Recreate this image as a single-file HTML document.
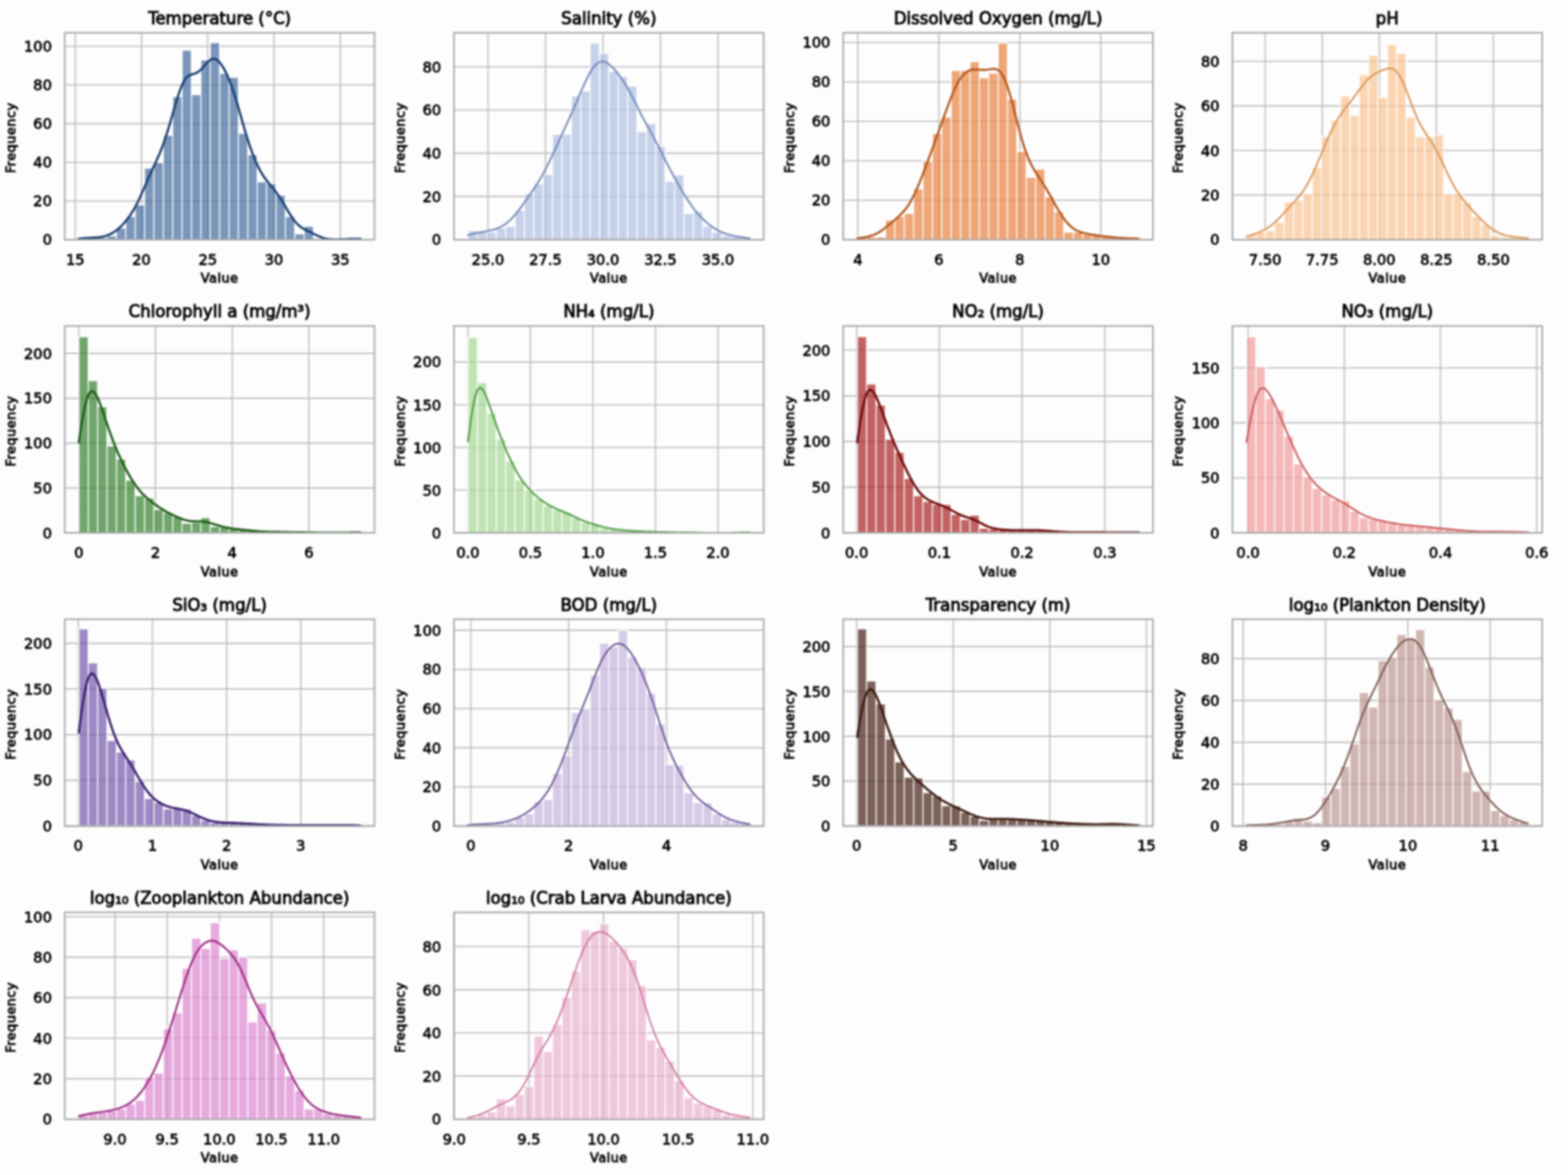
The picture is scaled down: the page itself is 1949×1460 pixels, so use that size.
<!DOCTYPE html>
<html><head><meta charset="utf-8"><title>Histograms</title>
<style>
html,body{margin:0;padding:0;background:#fdfdfd;}
body{width:1949px;height:1460px;overflow:hidden;}
#wrap{width:1949px;height:1460px;filter:blur(1px);}
svg{display:block;}
text{font-family:"DejaVu Sans","Liberation Sans",sans-serif;fill:#000;}
.tk text{font-size:18.2px;fill:#000;stroke:#000;stroke-width:0.8px;}
.lb{font-size:16px;fill:#000;stroke:#000;stroke-width:0.9px;letter-spacing:0.6px;}
.tt{font-family:"DejaVu Sans","Liberation Sans",sans-serif;font-size:20.6px;fill:#000;stroke:#000;stroke-width:1px;}
</style></head>
<body>
<div id="wrap">
<svg width="1949" height="1460" viewBox="0 0 1949 1460">
<rect width="1949" height="1460" fill="#fdfdfd"/>
<clipPath id="c0"><rect x="80.50" y="40.80" width="385.00" height="257.00"/></clipPath>
<path d="M93.50 40.80V297.80M175.88 40.80V297.80M258.25 40.80V297.80M340.62 40.80V297.80M423.00 40.80V297.80M80.50 297.80H465.50M80.50 249.74H465.50M80.50 201.68H465.50M80.50 153.62H465.50M80.50 105.56H465.50M80.50 57.50H465.50" stroke="#bdbdbd" stroke-width="1.6" fill="none"/>
<path d="M98.00 297.80H109.67V295.40H98.00ZM109.67 297.80H121.33V295.40H109.67ZM121.33 297.80H133.00V295.40H121.33ZM133.00 297.80H144.67V292.99H133.00ZM144.67 297.80H156.33V283.38H144.67ZM156.33 297.80H168.00V268.96H156.33ZM168.00 297.80H179.67V254.55H168.00ZM179.67 297.80H191.33V208.89H179.67ZM191.33 297.80H203.00V201.68H191.33ZM203.00 297.80H214.67V168.04H203.00ZM214.67 297.80H226.33V119.98H214.67ZM226.33 297.80H238.00V62.31H226.33ZM238.00 297.80H249.67V117.58H238.00ZM249.67 297.80H261.33V74.32H249.67ZM261.33 297.80H273.00V52.69H261.33ZM273.00 297.80H284.67V91.14H273.00ZM284.67 297.80H296.33V95.95H284.67ZM296.33 297.80H308.00V165.64H296.33ZM308.00 297.80H319.67V192.07H308.00ZM319.67 297.80H331.33V225.71H319.67ZM331.33 297.80H343.00V228.11H331.33ZM343.00 297.80H354.67V242.53H343.00ZM354.67 297.80H366.33V268.96H354.67ZM366.33 297.80H378.00V290.59H366.33ZM378.00 297.80H389.67V280.98H378.00ZM436.33 297.80H448.00V295.40H436.33Z" fill="#416a9c" fill-opacity="0.7" stroke="#ffffff" stroke-width="1.4" clip-path="url(#c0)"/>
<polyline points="98.0,296.6 99.8,296.4 101.5,296.3 103.3,296.1 105.0,296.0 106.8,295.9 108.6,295.8 110.3,295.7 112.1,295.6 113.8,295.5 115.6,295.4 117.3,295.2 119.1,295.1 120.9,295.0 122.6,294.8 124.4,294.6 126.1,294.3 127.9,294.0 129.7,293.6 131.4,293.1 133.2,292.5 134.9,291.9 136.7,291.1 138.5,290.2 140.2,289.2 142.0,288.1 143.7,286.9 145.5,285.6 147.2,284.1 149.0,282.6 150.8,280.9 152.5,279.1 154.3,277.2 156.0,275.1 157.8,273.0 159.6,270.7 161.3,268.2 163.1,265.6 164.8,262.8 166.6,259.9 168.4,256.7 170.1,253.3 171.9,249.8 173.6,246.0 175.4,242.2 177.1,238.2 178.9,234.2 180.7,230.1 182.4,226.1 184.2,222.1 185.9,218.1 187.7,214.3 189.5,210.4 191.2,206.7 193.0,202.9 194.7,199.0 196.5,195.1 198.3,191.0 200.0,186.7 201.8,182.2 203.5,177.4 205.3,172.4 207.0,167.1 208.8,161.5 210.6,155.7 212.3,149.7 214.1,143.7 215.8,137.5 217.6,131.5 219.4,125.5 221.1,119.9 222.9,114.6 224.6,109.8 226.4,105.5 228.2,101.9 229.9,98.9 231.7,96.6 233.4,94.9 235.2,93.7 236.9,92.8 238.7,92.3 240.5,91.8 242.2,91.3 244.0,90.6 245.7,89.7 247.5,88.5 249.3,87.0 251.0,85.2 252.8,83.3 254.5,81.2 256.3,79.1 258.1,77.2 259.8,75.6 261.6,74.2 263.3,73.4 265.1,73.0 266.8,73.1 268.6,73.7 270.4,74.9 272.1,76.5 273.9,78.6 275.6,81.0 277.4,83.9 279.2,87.0 280.9,90.4 282.7,94.2 284.4,98.3 286.2,102.6 287.9,107.3 289.7,112.4 291.5,117.7 293.2,123.3 295.0,129.2 296.7,135.2 298.5,141.4 300.3,147.6 302.0,153.7 303.8,159.8 305.5,165.7 307.3,171.4 309.1,176.9 310.8,182.2 312.6,187.2 314.3,191.9 316.1,196.4 317.8,200.5 319.6,204.5 321.4,208.1 323.1,211.5 324.9,214.6 326.6,217.5 328.4,220.1 330.2,222.6 331.9,224.9 333.7,227.1 335.4,229.2 337.2,231.3 339.0,233.4 340.7,235.6 342.5,237.8 344.2,240.2 346.0,242.7 347.7,245.3 349.5,248.0 351.3,250.9 353.0,253.8 354.8,256.8 356.5,259.7 358.3,262.7 360.1,265.6 361.8,268.4 363.6,271.0 365.3,273.4 367.1,275.6 368.9,277.6 370.6,279.4 372.4,280.9 374.1,282.3 375.9,283.4 377.6,284.5 379.4,285.4 381.2,286.3 382.9,287.1 384.7,287.9 386.4,288.8 388.2,289.7 390.0,290.5 391.7,291.4 393.5,292.3 395.2,293.1 397.0,293.9 398.8,294.6 400.5,295.3 402.3,295.8 404.0,296.3 405.8,296.7 407.5,297.0 409.3,297.2 411.1,297.4 412.8,297.5 414.6,297.6 416.3,297.6 418.1,297.6 419.9,297.6 421.6,297.6 423.4,297.5 425.1,297.5 426.9,297.4 428.7,297.3 430.4,297.2 432.2,297.1 433.9,297.0 435.7,297.0 437.4,296.9 439.2,296.9 441.0,296.8 442.7,296.8 444.5,296.8 446.2,296.9 448.0,296.9" fill="none" stroke="#1b3f6f" stroke-width="2.8" stroke-linejoin="round" stroke-linecap="round" clip-path="url(#c0)"/>
<rect x="80.50" y="40.80" width="385.00" height="257.00" fill="none" stroke="#a8a8a8" stroke-width="2.0"/>
<g class="tk"><text x="93.50" y="328.80" text-anchor="middle">15</text><text x="175.88" y="328.80" text-anchor="middle">20</text><text x="258.25" y="328.80" text-anchor="middle">25</text><text x="340.62" y="328.80" text-anchor="middle">30</text><text x="423.00" y="328.80" text-anchor="middle">35</text><text x="64.50" y="304.40" text-anchor="end">0</text><text x="64.50" y="256.34" text-anchor="end">20</text><text x="64.50" y="208.28" text-anchor="end">40</text><text x="64.50" y="160.22" text-anchor="end">60</text><text x="64.50" y="112.16" text-anchor="end">80</text><text x="64.50" y="64.10" text-anchor="end">100</text></g>
<text class="lb" x="273.00" y="351.30" text-anchor="middle">Value</text>
<text class="lb" transform="translate(19.00 171.30) rotate(-90)" text-anchor="middle">Frequency</text>
<text class="tt" x="273.00" y="30.00" text-anchor="middle">Temperature (°C)</text>
<clipPath id="c1"><rect x="564.30" y="40.80" width="385.00" height="257.00"/></clipPath>
<path d="M606.60 40.80V297.80M678.05 40.80V297.80M749.50 40.80V297.80M820.95 40.80V297.80M892.40 40.80V297.80M564.30 297.80H949.30M564.30 244.10H949.30M564.30 190.40H949.30M564.30 136.71H949.30M564.30 83.01H949.30" stroke="#bdbdbd" stroke-width="1.6" fill="none"/>
<path d="M581.80 297.80H593.47V286.25H581.80ZM593.47 297.80H605.13V288.40H593.47ZM605.13 297.80H616.80V288.40H605.13ZM616.80 297.80H628.47V283.30H616.80ZM628.47 297.80H640.13V281.15H628.47ZM640.13 297.80H651.80V261.02H640.13ZM651.80 297.80H663.47V240.61H651.80ZM663.47 297.80H675.13V228.53H663.47ZM675.13 297.80H686.80V216.45H675.13ZM686.80 297.80H698.47V166.78H686.80ZM698.47 297.80H710.13V166.78H698.47ZM710.13 297.80H721.80V118.98H710.13ZM721.80 297.80H733.47V113.08H721.80ZM733.47 297.80H745.13V53.20H733.47ZM745.13 297.80H756.80V66.36H745.13ZM756.80 297.80H768.47V88.65H756.80ZM768.47 297.80H780.13V94.82H768.47ZM780.13 297.80H791.80V106.90H780.13ZM791.80 297.80H803.47V163.55H791.80ZM803.47 297.80H815.13V153.62H803.47ZM815.13 297.80H826.80V181.81H815.13ZM826.80 297.80H838.47V225.31H826.80ZM838.47 297.80H850.13V217.25H838.47ZM850.13 297.80H861.80V265.04H850.13ZM861.80 297.80H873.47V262.90H861.80ZM873.47 297.80H885.13V281.15H873.47ZM885.13 297.80H896.80V288.40H885.13ZM896.80 297.80H908.47V292.43H896.80ZM908.47 297.80H920.13V293.77H908.47ZM920.13 297.80H931.80V295.12H920.13Z" fill="#aebfe1" fill-opacity="0.7" stroke="#ffffff" stroke-width="1.4" clip-path="url(#c1)"/>
<polyline points="581.8,292.4 583.6,291.9 585.3,291.4 587.1,290.9 588.8,290.5 590.6,290.0 592.4,289.6 594.1,289.2 595.9,288.9 597.6,288.6 599.4,288.3 601.1,288.0 602.9,287.7 604.7,287.3 606.4,287.0 608.2,286.7 609.9,286.3 611.7,285.9 613.5,285.4 615.2,284.9 617.0,284.3 618.7,283.6 620.5,282.9 622.3,282.0 624.0,281.1 625.8,280.0 627.5,278.9 629.3,277.6 631.0,276.2 632.8,274.7 634.6,273.0 636.3,271.3 638.1,269.4 639.8,267.4 641.6,265.3 643.4,263.1 645.1,260.8 646.9,258.5 648.6,256.1 650.4,253.7 652.2,251.2 653.9,248.7 655.7,246.2 657.4,243.7 659.2,241.2 660.9,238.6 662.7,236.0 664.5,233.4 666.2,230.7 668.0,227.9 669.7,225.1 671.5,222.2 673.3,219.1 675.0,216.0 676.8,212.7 678.5,209.4 680.3,205.9 682.1,202.4 683.8,198.8 685.6,195.1 687.3,191.3 689.1,187.5 690.8,183.7 692.6,179.9 694.4,176.1 696.1,172.3 697.9,168.5 699.6,164.6 701.4,160.8 703.2,156.9 704.9,153.0 706.7,149.1 708.4,145.2 710.2,141.3 712.0,137.3 713.7,133.3 715.5,129.2 717.2,125.2 719.0,121.1 720.7,117.1 722.5,113.0 724.3,109.1 726.0,105.2 727.8,101.3 729.5,97.7 731.3,94.2 733.1,90.9 734.8,87.9 736.6,85.2 738.3,82.8 740.1,80.8 741.9,79.1 743.6,77.8 745.4,77.0 747.1,76.5 748.9,76.4 750.6,76.6 752.4,77.2 754.2,78.0 755.9,79.1 757.7,80.5 759.4,82.0 761.2,83.7 763.0,85.5 764.7,87.4 766.5,89.5 768.2,91.7 770.0,94.0 771.7,96.4 773.5,98.9 775.3,101.6 777.0,104.3 778.8,107.2 780.5,110.3 782.3,113.5 784.1,116.7 785.8,120.1 787.6,123.6 789.3,127.0 791.1,130.6 792.9,134.1 794.6,137.5 796.4,141.0 798.1,144.4 799.9,147.7 801.6,151.0 803.4,154.2 805.2,157.4 806.9,160.5 808.7,163.7 810.4,166.9 812.2,170.1 814.0,173.4 815.7,176.7 817.5,180.1 819.2,183.6 821.0,187.0 822.8,190.5 824.5,194.1 826.3,197.6 828.0,201.1 829.8,204.6 831.5,208.0 833.3,211.3 835.1,214.6 836.8,217.9 838.6,221.1 840.3,224.3 842.1,227.4 843.9,230.4 845.6,233.5 847.4,236.5 849.1,239.4 850.9,242.3 852.7,245.1 854.4,247.9 856.2,250.6 857.9,253.2 859.7,255.7 861.4,258.1 863.2,260.4 865.0,262.6 866.7,264.7 868.5,266.7 870.2,268.6 872.0,270.5 873.8,272.2 875.5,273.9 877.3,275.5 879.0,277.1 880.8,278.5 882.6,279.9 884.3,281.2 886.1,282.5 887.8,283.7 889.6,284.8 891.3,285.8 893.1,286.7 894.9,287.6 896.6,288.4 898.4,289.1 900.1,289.8 901.9,290.4 903.7,291.0 905.4,291.5 907.2,291.9 908.9,292.4 910.7,292.8 912.5,293.1 914.2,293.5 916.0,293.8 917.7,294.1 919.5,294.4 921.2,294.7 923.0,294.9 924.8,295.2 926.5,295.4 928.3,295.7 930.0,295.9 931.8,296.1" fill="none" stroke="#7489b8" stroke-width="2.2" stroke-linejoin="round" stroke-linecap="round" clip-path="url(#c1)"/>
<rect x="564.30" y="40.80" width="385.00" height="257.00" fill="none" stroke="#a8a8a8" stroke-width="2.0"/>
<g class="tk"><text x="606.60" y="328.80" text-anchor="middle">25.0</text><text x="678.05" y="328.80" text-anchor="middle">27.5</text><text x="749.50" y="328.80" text-anchor="middle">30.0</text><text x="820.95" y="328.80" text-anchor="middle">32.5</text><text x="892.40" y="328.80" text-anchor="middle">35.0</text><text x="548.30" y="304.40" text-anchor="end">0</text><text x="548.30" y="250.70" text-anchor="end">20</text><text x="548.30" y="197.00" text-anchor="end">40</text><text x="548.30" y="143.31" text-anchor="end">60</text><text x="548.30" y="89.61" text-anchor="end">80</text></g>
<text class="lb" x="756.80" y="351.30" text-anchor="middle">Value</text>
<text class="lb" transform="translate(502.80 171.30) rotate(-90)" text-anchor="middle">Frequency</text>
<text class="tt" x="756.80" y="30.00" text-anchor="middle">Salinity (%)</text>
<clipPath id="c2"><rect x="1048.10" y="40.80" width="385.00" height="257.00"/></clipPath>
<path d="M1066.30 40.80V297.80M1166.97 40.80V297.80M1267.63 40.80V297.80M1368.30 40.80V297.80M1048.10 297.80H1433.10M1048.10 248.80H1433.10M1048.10 199.80H1433.10M1048.10 150.80H1433.10M1048.10 101.80H1433.10M1048.10 52.80H1433.10" stroke="#bdbdbd" stroke-width="1.6" fill="none"/>
<path d="M1065.60 297.80H1077.27V294.37H1065.60ZM1077.27 297.80H1088.93V294.37H1077.27ZM1088.93 297.80H1100.60V294.37H1088.93ZM1100.60 297.80H1112.27V273.30H1100.60ZM1112.27 297.80H1123.93V269.14H1112.27ZM1123.93 297.80H1135.60V264.97H1123.93ZM1135.60 297.80H1147.27V234.59H1135.60ZM1147.27 297.80H1158.93V200.05H1147.27ZM1158.93 297.80H1170.60V165.75H1158.93ZM1170.60 297.80H1182.27V145.41H1170.60ZM1182.27 297.80H1193.93V87.59H1182.27ZM1193.93 297.80H1205.60V87.59H1193.93ZM1205.60 297.80H1217.27V76.57H1205.60ZM1217.27 297.80H1228.93V96.66H1217.27ZM1228.93 297.80H1240.60V90.78H1228.93ZM1240.60 297.80H1252.27V53.29H1240.60ZM1252.27 297.80H1263.93V123.12H1252.27ZM1263.93 297.80H1275.60V188.04H1263.93ZM1275.60 297.80H1287.27V220.38H1275.60ZM1287.27 297.80H1298.93V210.09H1287.27ZM1298.93 297.80H1310.60V244.64H1298.93ZM1310.60 297.80H1322.27V263.01H1310.60ZM1322.27 297.80H1333.93V288.25H1322.27ZM1333.93 297.80H1345.60V288.25H1333.93ZM1345.60 297.80H1357.27V291.19H1345.60ZM1357.27 297.80H1368.93V292.17H1357.27ZM1368.93 297.80H1380.60V294.37H1368.93ZM1380.60 297.80H1392.27V295.35H1380.60ZM1392.27 297.80H1403.93V296.58H1392.27ZM1403.93 297.80H1415.60V295.35H1403.93Z" fill="#e8803e" fill-opacity="0.7" stroke="#ffffff" stroke-width="1.4" clip-path="url(#c2)"/>
<polyline points="1065.6,296.0 1067.4,295.8 1069.1,295.6 1070.9,295.3 1072.6,295.1 1074.4,294.8 1076.2,294.5 1077.9,294.2 1079.7,293.8 1081.4,293.3 1083.2,292.8 1084.9,292.3 1086.7,291.6 1088.5,290.8 1090.2,289.9 1092.0,289.0 1093.7,287.9 1095.5,286.7 1097.3,285.5 1099.0,284.1 1100.8,282.7 1102.5,281.3 1104.3,279.9 1106.1,278.4 1107.8,276.9 1109.6,275.4 1111.3,273.9 1113.1,272.4 1114.8,270.9 1116.6,269.4 1118.4,267.7 1120.1,266.0 1121.9,264.2 1123.6,262.2 1125.4,260.1 1127.2,257.7 1128.9,255.2 1130.7,252.4 1132.4,249.4 1134.2,246.2 1136.0,242.7 1137.7,239.0 1139.5,235.1 1141.2,231.1 1143.0,226.8 1144.7,222.4 1146.5,217.9 1148.3,213.3 1150.0,208.7 1151.8,204.0 1153.5,199.2 1155.3,194.4 1157.1,189.7 1158.8,184.9 1160.6,180.1 1162.3,175.3 1164.1,170.5 1165.9,165.7 1167.6,160.8 1169.4,156.0 1171.1,151.1 1172.9,146.2 1174.6,141.4 1176.4,136.5 1178.2,131.8 1179.9,127.1 1181.7,122.5 1183.4,118.1 1185.2,113.9 1187.0,110.0 1188.7,106.3 1190.5,102.9 1192.2,99.9 1194.0,97.2 1195.8,94.8 1197.5,92.8 1199.3,91.1 1201.0,89.6 1202.8,88.5 1204.5,87.7 1206.3,87.1 1208.1,86.7 1209.8,86.4 1211.6,86.4 1213.3,86.4 1215.1,86.5 1216.9,86.7 1218.6,86.8 1220.4,86.9 1222.1,86.9 1223.9,86.9 1225.7,86.8 1227.4,86.5 1229.2,86.3 1230.9,86.0 1232.7,85.7 1234.4,85.5 1236.2,85.6 1238.0,85.9 1239.7,86.5 1241.5,87.6 1243.2,89.3 1245.0,91.5 1246.8,94.4 1248.5,97.9 1250.3,102.0 1252.0,106.8 1253.8,112.2 1255.5,118.0 1257.3,124.3 1259.1,130.9 1260.8,137.7 1262.6,144.6 1264.3,151.5 1266.1,158.3 1267.9,164.9 1269.6,171.2 1271.4,177.2 1273.1,182.8 1274.9,188.0 1276.7,192.7 1278.4,197.1 1280.2,201.0 1281.9,204.7 1283.7,208.0 1285.4,211.0 1287.2,213.9 1289.0,216.7 1290.7,219.3 1292.5,222.0 1294.2,224.6 1296.0,227.3 1297.8,230.1 1299.5,233.0 1301.3,235.9 1303.0,239.0 1304.8,242.0 1306.6,245.2 1308.3,248.3 1310.1,251.5 1311.8,254.6 1313.6,257.7 1315.3,260.7 1317.1,263.6 1318.9,266.4 1320.6,269.0 1322.4,271.5 1324.1,273.9 1325.9,276.1 1327.7,278.0 1329.4,279.8 1331.2,281.5 1332.9,282.9 1334.7,284.2 1336.5,285.3 1338.2,286.3 1340.0,287.1 1341.7,287.8 1343.5,288.4 1345.2,289.0 1347.0,289.5 1348.8,289.9 1350.5,290.3 1352.3,290.6 1354.0,291.0 1355.8,291.3 1357.6,291.6 1359.3,291.8 1361.1,292.1 1362.8,292.4 1364.6,292.6 1366.4,292.9 1368.1,293.1 1369.9,293.3 1371.6,293.6 1373.4,293.8 1375.1,294.0 1376.9,294.2 1378.7,294.4 1380.4,294.6 1382.2,294.8 1383.9,294.9 1385.7,295.1 1387.5,295.2 1389.2,295.4 1391.0,295.5 1392.7,295.6 1394.5,295.7 1396.3,295.8 1398.0,295.9 1399.8,296.0 1401.5,296.0 1403.3,296.1 1405.0,296.2 1406.8,296.3 1408.6,296.4 1410.3,296.4 1412.1,296.5 1413.8,296.6 1415.6,296.7" fill="none" stroke="#b2561c" stroke-width="2.6" stroke-linejoin="round" stroke-linecap="round" clip-path="url(#c2)"/>
<rect x="1048.10" y="40.80" width="385.00" height="257.00" fill="none" stroke="#a8a8a8" stroke-width="2.0"/>
<g class="tk"><text x="1066.30" y="328.80" text-anchor="middle">4</text><text x="1166.97" y="328.80" text-anchor="middle">6</text><text x="1267.63" y="328.80" text-anchor="middle">8</text><text x="1368.30" y="328.80" text-anchor="middle">10</text><text x="1032.10" y="304.40" text-anchor="end">0</text><text x="1032.10" y="255.40" text-anchor="end">20</text><text x="1032.10" y="206.40" text-anchor="end">40</text><text x="1032.10" y="157.40" text-anchor="end">60</text><text x="1032.10" y="108.40" text-anchor="end">80</text><text x="1032.10" y="59.40" text-anchor="end">100</text></g>
<text class="lb" x="1240.60" y="351.30" text-anchor="middle">Value</text>
<text class="lb" transform="translate(986.60 171.30) rotate(-90)" text-anchor="middle">Frequency</text>
<text class="tt" x="1240.60" y="30.00" text-anchor="middle">Dissolved Oxygen (mg/L)</text>
<clipPath id="c3"><rect x="1531.90" y="40.80" width="385.00" height="257.00"/></clipPath>
<path d="M1572.60 40.80V297.80M1643.52 40.80V297.80M1714.45 40.80V297.80M1785.38 40.80V297.80M1856.30 40.80V297.80M1531.90 297.80H1916.90M1531.90 242.40H1916.90M1531.90 187.00H1916.90M1531.90 131.60H1916.90M1531.90 76.20H1916.90" stroke="#bdbdbd" stroke-width="1.6" fill="none"/>
<path d="M1549.40 297.80H1561.07V291.43H1549.40ZM1561.07 297.80H1572.73V288.38H1561.07ZM1572.73 297.80H1584.40V286.17H1572.73ZM1584.40 297.80H1596.07V276.19H1584.40ZM1596.07 297.80H1607.73V250.71H1596.07ZM1607.73 297.80H1619.40V248.77H1607.73ZM1619.40 297.80H1631.07V240.74H1619.40ZM1631.07 297.80H1642.73V208.33H1631.07ZM1642.73 297.80H1654.40V169.83H1642.73ZM1654.40 297.80H1666.07V149.33H1654.40ZM1666.07 297.80H1677.73V119.14H1666.07ZM1677.73 297.80H1689.40V143.51H1677.73ZM1689.40 297.80H1701.07V92.82H1689.40ZM1701.07 297.80H1712.73V68.44H1701.07ZM1712.73 297.80H1724.40V121.07H1712.73ZM1724.40 297.80H1736.07V55.15H1724.40ZM1736.07 297.80H1747.73V66.23H1736.07ZM1747.73 297.80H1759.40V145.45H1747.73ZM1759.40 297.80H1771.07V169.83H1759.40ZM1771.07 297.80H1782.73V169.83H1771.07ZM1782.73 297.80H1794.40V167.61H1782.73ZM1794.40 297.80H1806.07V240.74H1794.40ZM1806.07 297.80H1817.73V240.74H1806.07ZM1817.73 297.80H1829.40V251.82H1817.73ZM1829.40 297.80H1841.07V268.99H1829.40ZM1841.07 297.80H1852.73V279.24H1841.07ZM1852.73 297.80H1864.40V292.26H1852.73ZM1864.40 297.80H1876.07V294.48H1864.40ZM1876.07 297.80H1887.73V294.48H1876.07ZM1887.73 297.80H1899.40V294.48H1887.73Z" fill="#f9c391" fill-opacity="0.7" stroke="#ffffff" stroke-width="1.4" clip-path="url(#c3)"/>
<polyline points="1549.4,293.8 1551.2,293.3 1552.9,292.8 1554.7,292.2 1556.4,291.7 1558.2,291.1 1560.0,290.5 1561.7,289.8 1563.5,289.2 1565.2,288.5 1567.0,287.7 1568.7,286.9 1570.5,286.1 1572.3,285.1 1574.0,284.1 1575.8,283.1 1577.5,281.9 1579.3,280.6 1581.1,279.3 1582.8,277.8 1584.6,276.3 1586.3,274.6 1588.1,272.9 1589.9,271.2 1591.6,269.4 1593.4,267.5 1595.1,265.6 1596.9,263.7 1598.6,261.8 1600.4,259.9 1602.2,258.0 1603.9,256.1 1605.7,254.2 1607.4,252.3 1609.2,250.3 1611.0,248.4 1612.7,246.3 1614.5,244.2 1616.2,242.0 1618.0,239.7 1619.8,237.3 1621.5,234.6 1623.3,231.9 1625.0,228.9 1626.8,225.7 1628.5,222.4 1630.3,218.9 1632.1,215.2 1633.8,211.4 1635.6,207.5 1637.3,203.4 1639.1,199.3 1640.9,195.1 1642.6,190.9 1644.4,186.6 1646.1,182.4 1647.9,178.3 1649.7,174.2 1651.4,170.3 1653.2,166.4 1654.9,162.7 1656.7,159.2 1658.4,155.8 1660.2,152.5 1662.0,149.4 1663.7,146.5 1665.5,143.8 1667.2,141.2 1669.0,138.7 1670.8,136.4 1672.5,134.1 1674.3,131.9 1676.0,129.7 1677.8,127.5 1679.6,125.2 1681.3,123.0 1683.1,120.7 1684.8,118.3 1686.6,115.9 1688.3,113.5 1690.1,111.0 1691.9,108.6 1693.6,106.3 1695.4,104.0 1697.1,101.9 1698.9,99.9 1700.7,98.1 1702.4,96.4 1704.2,94.9 1705.9,93.6 1707.7,92.5 1709.5,91.4 1711.2,90.5 1713.0,89.6 1714.7,88.8 1716.5,88.0 1718.2,87.3 1720.0,86.6 1721.8,86.0 1723.5,85.5 1725.3,85.1 1727.0,84.9 1728.8,85.0 1730.6,85.4 1732.3,86.2 1734.1,87.4 1735.8,89.0 1737.6,91.1 1739.3,93.7 1741.1,96.7 1742.9,100.2 1744.6,104.0 1746.4,108.2 1748.1,112.6 1749.9,117.2 1751.7,121.8 1753.4,126.5 1755.2,131.1 1756.9,135.6 1758.7,140.0 1760.5,144.1 1762.2,148.0 1764.0,151.6 1765.7,155.0 1767.5,158.2 1769.2,161.1 1771.0,163.9 1772.8,166.6 1774.5,169.3 1776.3,171.9 1778.0,174.5 1779.8,177.2 1781.6,180.1 1783.3,183.1 1785.1,186.2 1786.8,189.5 1788.6,192.9 1790.4,196.5 1792.1,200.2 1793.9,204.0 1795.6,207.8 1797.4,211.6 1799.1,215.3 1800.9,219.0 1802.7,222.6 1804.4,226.0 1806.2,229.2 1807.9,232.3 1809.7,235.3 1811.5,238.0 1813.2,240.7 1815.0,243.1 1816.7,245.5 1818.5,247.7 1820.3,249.9 1822.0,252.0 1823.8,254.1 1825.5,256.1 1827.3,258.1 1829.0,260.0 1830.8,262.0 1832.6,263.9 1834.3,265.8 1836.1,267.6 1837.8,269.5 1839.6,271.3 1841.4,273.1 1843.1,274.8 1844.9,276.5 1846.6,278.1 1848.4,279.6 1850.2,281.1 1851.9,282.5 1853.7,283.9 1855.4,285.1 1857.2,286.3 1858.9,287.3 1860.7,288.3 1862.5,289.2 1864.2,290.0 1866.0,290.7 1867.7,291.4 1869.5,291.9 1871.3,292.4 1873.0,292.8 1874.8,293.2 1876.5,293.5 1878.3,293.8 1880.1,294.1 1881.8,294.3 1883.6,294.5 1885.3,294.7 1887.1,294.9 1888.8,295.1 1890.6,295.2 1892.4,295.4 1894.1,295.6 1895.9,295.8 1897.6,295.9 1899.4,296.1" fill="none" stroke="#d9985a" stroke-width="2.2" stroke-linejoin="round" stroke-linecap="round" clip-path="url(#c3)"/>
<rect x="1531.90" y="40.80" width="385.00" height="257.00" fill="none" stroke="#a8a8a8" stroke-width="2.0"/>
<g class="tk"><text x="1572.60" y="328.80" text-anchor="middle">7.50</text><text x="1643.52" y="328.80" text-anchor="middle">7.75</text><text x="1714.45" y="328.80" text-anchor="middle">8.00</text><text x="1785.38" y="328.80" text-anchor="middle">8.25</text><text x="1856.30" y="328.80" text-anchor="middle">8.50</text><text x="1515.90" y="304.40" text-anchor="end">0</text><text x="1515.90" y="249.00" text-anchor="end">20</text><text x="1515.90" y="193.60" text-anchor="end">40</text><text x="1515.90" y="138.20" text-anchor="end">60</text><text x="1515.90" y="82.80" text-anchor="end">80</text></g>
<text class="lb" x="1724.40" y="351.30" text-anchor="middle">Value</text>
<text class="lb" transform="translate(1470.40 171.30) rotate(-90)" text-anchor="middle">Frequency</text>
<text class="tt" x="1724.40" y="30.00" text-anchor="middle">pH</text>
<clipPath id="c4"><rect x="80.50" y="405.10" width="385.00" height="257.00"/></clipPath>
<path d="M97.95 405.10V662.10M193.30 405.10V662.10M288.65 405.10V662.10M384.00 405.10V662.10M80.50 662.10H465.50M80.50 606.35H465.50M80.50 550.60H465.50M80.50 494.85H465.50M80.50 439.11H465.50" stroke="#bdbdbd" stroke-width="1.6" fill="none"/>
<path d="M98.00 662.10H109.67V418.26H98.00ZM109.67 662.10H121.33V472.89H109.67ZM121.33 662.10H133.00V505.34H121.33ZM133.00 662.10H144.67V553.95H133.00ZM144.67 662.10H156.33V570.23H144.67ZM156.33 662.10H168.00V596.54H156.33ZM168.00 662.10H179.67V615.83H168.00ZM179.67 662.10H191.33V618.84H179.67ZM191.33 662.10H203.00V633.00H191.33ZM203.00 662.10H214.67V637.01H203.00ZM214.67 662.10H226.33V642.14H214.67ZM226.33 662.10H238.00V650.17H226.33ZM238.00 662.10H249.67V649.17H238.00ZM249.67 662.10H261.33V643.15H249.67ZM261.33 662.10H273.00V654.30H261.33ZM273.00 662.10H284.67V655.30H273.00ZM284.67 662.10H296.33V657.31H284.67ZM296.33 662.10H308.00V658.42H296.33ZM308.00 662.10H319.67V659.42H308.00ZM319.67 662.10H331.33V660.99H319.67ZM331.33 662.10H343.00V660.99H331.33ZM343.00 662.10H354.67V660.99H343.00ZM354.67 662.10H366.33V660.99H354.67ZM378.00 662.10H389.67V660.99H378.00ZM436.33 662.10H448.00V660.99H436.33Z" fill="#33802d" fill-opacity="0.7" stroke="#ffffff" stroke-width="1.4" clip-path="url(#c4)"/>
<polyline points="98.0,549.8 99.8,537.9 101.5,526.6 103.3,516.4 105.0,507.5 106.8,500.0 108.6,494.1 110.3,489.9 112.1,487.2 113.8,486.1 115.6,486.3 117.3,487.7 119.1,490.2 120.9,493.4 122.6,497.4 124.4,501.8 126.1,506.6 127.9,511.7 129.7,516.8 131.4,522.1 133.2,527.3 134.9,532.4 136.7,537.4 138.5,542.3 140.2,547.0 142.0,551.5 143.7,555.9 145.5,560.0 147.2,564.1 149.0,567.9 150.8,571.7 152.5,575.3 154.3,578.8 156.0,582.2 157.8,585.5 159.6,588.7 161.3,591.8 163.1,594.7 164.8,597.6 166.6,600.3 168.4,602.8 170.1,605.2 171.9,607.5 173.6,609.6 175.4,611.6 177.1,613.5 178.9,615.2 180.7,616.9 182.4,618.5 184.2,620.0 185.9,621.5 187.7,622.9 189.5,624.3 191.2,625.6 193.0,626.9 194.7,628.2 196.5,629.5 198.3,630.6 200.0,631.8 201.8,632.9 203.5,634.0 205.3,635.0 207.0,635.9 208.8,636.9 210.6,637.8 212.3,638.7 214.1,639.6 215.8,640.4 217.6,641.2 219.4,642.1 221.1,642.8 222.9,643.6 224.6,644.3 226.4,644.9 228.2,645.5 229.9,646.1 231.7,646.5 233.4,646.9 235.2,647.2 236.9,647.4 238.7,647.6 240.5,647.7 242.2,647.8 244.0,647.8 245.7,647.8 247.5,647.9 249.3,647.9 251.0,648.0 252.8,648.2 254.5,648.4 256.3,648.7 258.1,649.1 259.8,649.5 261.6,650.0 263.3,650.5 265.1,651.0 266.8,651.6 268.6,652.2 270.4,652.7 272.1,653.2 273.9,653.7 275.6,654.2 277.4,654.6 279.2,655.0 280.9,655.4 282.7,655.7 284.4,656.0 286.2,656.3 287.9,656.6 289.7,656.9 291.5,657.1 293.2,657.3 295.0,657.5 296.7,657.7 298.5,657.9 300.3,658.1 302.0,658.3 303.8,658.5 305.5,658.7 307.3,658.9 309.1,659.0 310.8,659.2 312.6,659.4 314.3,659.6 316.1,659.7 317.8,659.9 319.6,660.0 321.4,660.1 323.1,660.3 324.9,660.4 326.6,660.5 328.4,660.6 330.2,660.7 331.9,660.7 333.7,660.8 335.4,660.8 337.2,660.9 339.0,660.9 340.7,660.9 342.5,661.0 344.2,661.0 346.0,661.0 347.7,661.0 349.5,661.1 351.3,661.1 353.0,661.1 354.8,661.1 356.5,661.2 358.3,661.2 360.1,661.3 361.8,661.3 363.6,661.3 365.3,661.4 367.1,661.4 368.9,661.4 370.6,661.5 372.4,661.5 374.1,661.5 375.9,661.5 377.6,661.5 379.4,661.6 381.2,661.6 382.9,661.6 384.7,661.6 386.4,661.6 388.2,661.7 390.0,661.7 391.7,661.7 393.5,661.8 395.2,661.8 397.0,661.9 398.8,661.9 400.5,661.9 402.3,662.0 404.0,662.0 405.8,662.0 407.5,662.0 409.3,662.0 411.1,662.0 412.8,662.0 414.6,662.0 416.3,662.0 418.1,662.0 419.9,662.0 421.6,662.0 423.4,662.0 425.1,661.9 426.9,661.9 428.7,661.9 430.4,661.8 432.2,661.8 433.9,661.8 435.7,661.7 437.4,661.7 439.2,661.7 441.0,661.7 442.7,661.7 444.5,661.7 446.2,661.7 448.0,661.7" fill="none" stroke="#1f5c1a" stroke-width="2.8" stroke-linejoin="round" stroke-linecap="round" clip-path="url(#c4)"/>
<rect x="80.50" y="405.10" width="385.00" height="257.00" fill="none" stroke="#a8a8a8" stroke-width="2.0"/>
<g class="tk"><text x="97.95" y="693.10" text-anchor="middle">0</text><text x="193.30" y="693.10" text-anchor="middle">2</text><text x="288.65" y="693.10" text-anchor="middle">4</text><text x="384.00" y="693.10" text-anchor="middle">6</text><text x="64.50" y="668.70" text-anchor="end">0</text><text x="64.50" y="612.95" text-anchor="end">50</text><text x="64.50" y="557.20" text-anchor="end">100</text><text x="64.50" y="501.45" text-anchor="end">150</text><text x="64.50" y="445.71" text-anchor="end">200</text></g>
<text class="lb" x="273.00" y="715.60" text-anchor="middle">Value</text>
<text class="lb" transform="translate(19.00 535.60) rotate(-90)" text-anchor="middle">Frequency</text>
<text class="tt" x="273.00" y="394.30" text-anchor="middle">Chlorophyll a (mg/m³)</text>
<clipPath id="c5"><rect x="564.30" y="405.10" width="385.00" height="257.00"/></clipPath>
<path d="M581.60 405.10V662.10M659.30 405.10V662.10M737.00 405.10V662.10M814.70 405.10V662.10M892.40 405.10V662.10M564.30 662.10H949.30M564.30 609.04H949.30M564.30 555.99H949.30M564.30 502.93H949.30M564.30 449.88H949.30" stroke="#bdbdbd" stroke-width="1.6" fill="none"/>
<path d="M581.80 662.10H593.47V419.11H581.80ZM593.47 662.10H605.13V475.35H593.47ZM605.13 662.10H616.80V513.55H605.13ZM616.80 662.10H628.47V545.38H616.80ZM628.47 662.10H640.13V572.97H628.47ZM640.13 662.10H651.80V596.31H640.13ZM651.80 662.10H663.47V609.04H651.80ZM663.47 662.10H675.13V619.66H663.47ZM675.13 662.10H686.80V628.14H675.13ZM686.80 662.10H698.47V633.45H686.80ZM698.47 662.10H710.13V636.63H698.47ZM710.13 662.10H721.80V643.00H710.13ZM721.80 662.10H733.47V649.37H721.80ZM733.47 662.10H745.13V651.49H733.47ZM745.13 662.10H756.80V655.73H745.13ZM756.80 662.10H768.47V657.86H756.80ZM768.47 662.10H780.13V658.92H768.47ZM780.13 662.10H791.80V659.98H780.13ZM791.80 662.10H803.47V659.98H791.80ZM803.47 662.10H815.13V661.04H803.47ZM815.13 662.10H826.80V661.04H815.13ZM826.80 662.10H838.47V661.04H826.80ZM850.13 662.10H861.80V661.04H850.13ZM920.13 662.10H931.80V661.04H920.13Z" fill="#a4d792" fill-opacity="0.7" stroke="#ffffff" stroke-width="1.4" clip-path="url(#c5)"/>
<polyline points="581.8,548.5 583.6,534.8 585.3,521.9 587.1,510.5 588.8,500.8 590.6,493.0 592.4,487.3 594.1,483.7 595.9,481.9 597.6,481.9 599.4,483.3 601.1,485.9 602.9,489.4 604.7,493.5 606.4,498.2 608.2,503.1 609.9,508.1 611.7,513.2 613.5,518.3 615.2,523.3 617.0,528.2 618.7,533.1 620.5,537.8 622.3,542.4 624.0,546.9 625.8,551.2 627.5,555.5 629.3,559.6 631.0,563.6 632.8,567.5 634.6,571.3 636.3,575.0 638.1,578.5 639.8,581.8 641.6,585.1 643.4,588.1 645.1,591.0 646.9,593.8 648.6,596.4 650.4,598.9 652.2,601.2 653.9,603.4 655.7,605.5 657.4,607.4 659.2,609.3 660.9,611.1 662.7,612.8 664.5,614.5 666.2,616.0 668.0,617.5 669.7,619.0 671.5,620.4 673.3,621.7 675.0,623.0 676.8,624.2 678.5,625.4 680.3,626.5 682.1,627.5 683.8,628.5 685.6,629.4 687.3,630.3 689.1,631.1 690.8,631.9 692.6,632.7 694.4,633.5 696.1,634.2 697.9,634.9 699.6,635.6 701.4,636.4 703.2,637.1 704.9,637.8 706.7,638.6 708.4,639.4 710.2,640.2 712.0,641.0 713.7,641.9 715.5,642.7 717.2,643.5 719.0,644.4 720.7,645.2 722.5,645.9 724.3,646.7 726.0,647.4 727.8,648.1 729.5,648.7 731.3,649.4 733.1,650.0 734.8,650.5 736.6,651.1 738.3,651.6 740.1,652.1 741.9,652.6 743.6,653.1 745.4,653.6 747.1,654.1 748.9,654.5 750.6,655.0 752.4,655.4 754.2,655.8 755.9,656.2 757.7,656.5 759.4,656.9 761.2,657.2 763.0,657.4 764.7,657.7 766.5,657.9 768.2,658.2 770.0,658.4 771.7,658.6 773.5,658.7 775.3,658.9 777.0,659.0 778.8,659.2 780.5,659.3 782.3,659.4 784.1,659.6 785.8,659.7 787.6,659.8 789.3,659.8 791.1,659.9 792.9,660.0 794.6,660.1 796.4,660.2 798.1,660.3 799.9,660.3 801.6,660.4 803.4,660.5 805.2,660.6 806.9,660.6 808.7,660.7 810.4,660.8 812.2,660.8 814.0,660.9 815.7,660.9 817.5,661.0 819.2,661.0 821.0,661.0 822.8,661.1 824.5,661.1 826.3,661.1 828.0,661.2 829.8,661.2 831.5,661.3 833.3,661.3 835.1,661.4 836.8,661.4 838.6,661.4 840.3,661.5 842.1,661.5 843.9,661.5 845.6,661.5 847.4,661.6 849.1,661.6 850.9,661.6 852.7,661.6 854.4,661.6 856.2,661.6 857.9,661.6 859.7,661.7 861.4,661.7 863.2,661.7 865.0,661.8 866.7,661.8 868.5,661.9 870.2,661.9 872.0,661.9 873.8,662.0 875.5,662.0 877.3,662.0 879.0,662.1 880.8,662.1 882.6,662.1 884.3,662.1 886.1,662.1 887.8,662.1 889.6,662.1 891.3,662.1 893.1,662.1 894.9,662.1 896.6,662.1 898.4,662.1 900.1,662.1 901.9,662.1 903.7,662.0 905.4,662.0 907.2,662.0 908.9,662.0 910.7,661.9 912.5,661.9 914.2,661.8 916.0,661.8 917.7,661.8 919.5,661.7 921.2,661.7 923.0,661.7 924.8,661.7 926.5,661.7 928.3,661.7 930.0,661.7 931.8,661.7" fill="none" stroke="#4e9a45" stroke-width="2.2" stroke-linejoin="round" stroke-linecap="round" clip-path="url(#c5)"/>
<rect x="564.30" y="405.10" width="385.00" height="257.00" fill="none" stroke="#a8a8a8" stroke-width="2.0"/>
<g class="tk"><text x="581.60" y="693.10" text-anchor="middle">0.0</text><text x="659.30" y="693.10" text-anchor="middle">0.5</text><text x="737.00" y="693.10" text-anchor="middle">1.0</text><text x="814.70" y="693.10" text-anchor="middle">1.5</text><text x="892.40" y="693.10" text-anchor="middle">2.0</text><text x="548.30" y="668.70" text-anchor="end">0</text><text x="548.30" y="615.64" text-anchor="end">50</text><text x="548.30" y="562.59" text-anchor="end">100</text><text x="548.30" y="509.53" text-anchor="end">150</text><text x="548.30" y="456.48" text-anchor="end">200</text></g>
<text class="lb" x="756.80" y="715.60" text-anchor="middle">Value</text>
<text class="lb" transform="translate(502.80 535.60) rotate(-90)" text-anchor="middle">Frequency</text>
<text class="tt" x="756.80" y="394.30" text-anchor="middle">NH₄ (mg/L)</text>
<clipPath id="c6"><rect x="1048.10" y="405.10" width="385.00" height="257.00"/></clipPath>
<path d="M1064.75 405.10V662.10M1167.60 405.10V662.10M1270.45 405.10V662.10M1373.30 405.10V662.10M1048.10 662.10H1433.10M1048.10 605.34H1433.10M1048.10 548.58H1433.10M1048.10 491.83H1433.10M1048.10 435.07H1433.10" stroke="#bdbdbd" stroke-width="1.6" fill="none"/>
<path d="M1065.60 662.10H1077.27V418.15H1065.60ZM1077.27 662.10H1088.93V477.07H1077.27ZM1088.93 662.10H1100.60V503.29H1088.93ZM1100.60 662.10H1112.27V545.86H1100.60ZM1112.27 662.10H1123.93V562.09H1112.27ZM1123.93 662.10H1135.60V594.44H1123.93ZM1135.60 662.10H1147.27V615.79H1135.60ZM1147.27 662.10H1158.93V622.94H1147.27ZM1158.93 662.10H1170.60V626.91H1158.93ZM1170.60 662.10H1182.27V626.91H1170.60ZM1182.27 662.10H1193.93V639.06H1182.27ZM1193.93 662.10H1205.60V645.19H1193.93ZM1205.60 662.10H1217.27V640.08H1205.60ZM1217.27 662.10H1228.93V656.31H1217.27ZM1228.93 662.10H1240.60V657.22H1228.93ZM1240.60 662.10H1252.27V658.24H1240.60ZM1252.27 662.10H1263.93V659.26H1252.27ZM1263.93 662.10H1275.60V659.26H1263.93ZM1275.60 662.10H1287.27V658.24H1275.60ZM1287.27 662.10H1298.93V658.69H1287.27ZM1298.93 662.10H1310.60V659.83H1298.93ZM1310.60 662.10H1322.27V660.96H1310.60ZM1322.27 662.10H1333.93V661.53H1322.27ZM1333.93 662.10H1345.60V661.53H1333.93ZM1345.60 662.10H1357.27V661.53H1345.60ZM1357.27 662.10H1368.93V661.53H1357.27ZM1368.93 662.10H1380.60V661.53H1368.93ZM1380.60 662.10H1392.27V661.53H1380.60ZM1403.93 662.10H1415.60V660.96H1403.93Z" fill="#a81f1f" fill-opacity="0.7" stroke="#ffffff" stroke-width="1.4" clip-path="url(#c6)"/>
<polyline points="1065.6,549.6 1067.4,537.0 1069.1,525.3 1070.9,514.7 1072.6,505.5 1074.4,497.9 1076.2,492.0 1077.9,487.8 1079.7,485.3 1081.4,484.3 1083.2,484.7 1084.9,486.2 1086.7,488.7 1088.5,491.9 1090.2,495.6 1092.0,499.8 1093.7,504.3 1095.5,509.0 1097.3,513.7 1099.0,518.5 1100.8,523.3 1102.5,528.0 1104.3,532.6 1106.1,537.1 1107.8,541.6 1109.6,545.9 1111.3,550.1 1113.1,554.2 1114.8,558.3 1116.6,562.2 1118.4,566.2 1120.1,570.1 1121.9,573.9 1123.6,577.7 1125.4,581.4 1127.2,585.1 1128.9,588.7 1130.7,592.1 1132.4,595.5 1134.2,598.6 1136.0,601.6 1137.7,604.4 1139.5,607.0 1141.2,609.4 1143.0,611.6 1144.7,613.6 1146.5,615.4 1148.3,617.0 1150.0,618.4 1151.8,619.7 1153.5,620.9 1155.3,621.9 1157.1,622.8 1158.8,623.6 1160.6,624.3 1162.3,625.0 1164.1,625.7 1165.9,626.3 1167.6,627.0 1169.4,627.6 1171.1,628.3 1172.9,629.0 1174.6,629.8 1176.4,630.6 1178.2,631.5 1179.9,632.4 1181.7,633.4 1183.4,634.4 1185.2,635.4 1187.0,636.4 1188.7,637.3 1190.5,638.2 1192.2,639.1 1194.0,639.9 1195.8,640.6 1197.5,641.3 1199.3,641.9 1201.0,642.5 1202.8,643.0 1204.5,643.6 1206.3,644.2 1208.1,644.8 1209.8,645.5 1211.6,646.2 1213.3,647.0 1215.1,647.9 1216.9,648.8 1218.6,649.7 1220.4,650.6 1222.1,651.5 1223.9,652.4 1225.7,653.2 1227.4,654.0 1229.2,654.7 1230.9,655.3 1232.7,655.8 1234.4,656.3 1236.2,656.7 1238.0,657.0 1239.7,657.3 1241.5,657.6 1243.2,657.8 1245.0,658.0 1246.8,658.1 1248.5,658.3 1250.3,658.4 1252.0,658.5 1253.8,658.6 1255.5,658.7 1257.3,658.8 1259.1,658.9 1260.8,658.9 1262.6,658.9 1264.3,658.9 1266.1,658.9 1267.9,658.9 1269.6,658.9 1271.4,658.9 1273.1,658.9 1274.9,658.8 1276.7,658.8 1278.4,658.8 1280.2,658.8 1281.9,658.8 1283.7,658.8 1285.4,658.8 1287.2,658.8 1289.0,658.9 1290.7,658.9 1292.5,659.0 1294.2,659.1 1296.0,659.2 1297.8,659.3 1299.5,659.4 1301.3,659.6 1303.0,659.7 1304.8,659.8 1306.6,660.0 1308.3,660.1 1310.1,660.3 1311.8,660.4 1313.6,660.5 1315.3,660.6 1317.1,660.8 1318.9,660.9 1320.6,661.0 1322.4,661.1 1324.1,661.1 1325.9,661.2 1327.7,661.3 1329.4,661.3 1331.2,661.4 1332.9,661.4 1334.7,661.4 1336.5,661.5 1338.2,661.5 1340.0,661.5 1341.7,661.5 1343.5,661.5 1345.2,661.5 1347.0,661.5 1348.8,661.5 1350.5,661.5 1352.3,661.5 1354.0,661.5 1355.8,661.5 1357.6,661.5 1359.3,661.5 1361.1,661.5 1362.8,661.5 1364.6,661.5 1366.4,661.5 1368.1,661.5 1369.9,661.5 1371.6,661.5 1373.4,661.6 1375.1,661.6 1376.9,661.6 1378.7,661.6 1380.4,661.6 1382.2,661.6 1383.9,661.6 1385.7,661.6 1387.5,661.6 1389.2,661.7 1391.0,661.7 1392.7,661.7 1394.5,661.7 1396.3,661.7 1398.0,661.7 1399.8,661.6 1401.5,661.6 1403.3,661.6 1405.0,661.6 1406.8,661.6 1408.6,661.6 1410.3,661.6 1412.1,661.6 1413.8,661.7 1415.6,661.7" fill="none" stroke="#6b0a0a" stroke-width="2.8" stroke-linejoin="round" stroke-linecap="round" clip-path="url(#c6)"/>
<rect x="1048.10" y="405.10" width="385.00" height="257.00" fill="none" stroke="#a8a8a8" stroke-width="2.0"/>
<g class="tk"><text x="1064.75" y="693.10" text-anchor="middle">0.0</text><text x="1167.60" y="693.10" text-anchor="middle">0.1</text><text x="1270.45" y="693.10" text-anchor="middle">0.2</text><text x="1373.30" y="693.10" text-anchor="middle">0.3</text><text x="1032.10" y="668.70" text-anchor="end">0</text><text x="1032.10" y="611.94" text-anchor="end">50</text><text x="1032.10" y="555.18" text-anchor="end">100</text><text x="1032.10" y="498.43" text-anchor="end">150</text><text x="1032.10" y="441.67" text-anchor="end">200</text></g>
<text class="lb" x="1240.60" y="715.60" text-anchor="middle">Value</text>
<text class="lb" transform="translate(986.60 535.60) rotate(-90)" text-anchor="middle">Frequency</text>
<text class="tt" x="1240.60" y="394.30" text-anchor="middle">NO₂ (mg/L)</text>
<clipPath id="c7"><rect x="1531.90" y="405.10" width="385.00" height="257.00"/></clipPath>
<path d="M1551.30 405.10V662.10M1670.90 405.10V662.10M1790.50 405.10V662.10M1910.10 405.10V662.10M1531.90 662.10H1916.90M1531.90 593.71H1916.90M1531.90 525.33H1916.90M1531.90 456.94H1916.90" stroke="#bdbdbd" stroke-width="1.6" fill="none"/>
<path d="M1549.40 662.10H1561.07V418.23H1549.40ZM1561.07 662.10H1572.73V455.71H1561.07ZM1572.73 662.10H1584.40V495.23H1572.73ZM1584.40 662.10H1596.07V509.46H1584.40ZM1596.07 662.10H1607.73V541.74H1596.07ZM1607.73 662.10H1619.40V576.34H1607.73ZM1619.40 662.10H1631.07V592.48H1619.40ZM1631.07 662.10H1642.73V606.71H1631.07ZM1642.73 662.10H1654.40V614.78H1642.73ZM1654.40 662.10H1666.07V620.93H1654.40ZM1666.07 662.10H1677.73V621.89H1666.07ZM1677.73 662.10H1689.40V635.16H1677.73ZM1689.40 662.10H1701.07V643.23H1689.40ZM1701.07 662.10H1712.73V645.28H1701.07ZM1712.73 662.10H1724.40V647.19H1712.73ZM1724.40 662.10H1736.07V650.20H1724.40ZM1736.07 662.10H1747.73V652.25H1736.07ZM1747.73 662.10H1759.40V653.35H1747.73ZM1759.40 662.10H1771.07V653.35H1759.40ZM1771.07 662.10H1782.73V655.26H1771.07ZM1782.73 662.10H1794.40V656.36H1782.73ZM1794.40 662.10H1806.07V657.31H1794.40ZM1806.07 662.10H1817.73V658.95H1806.07ZM1817.73 662.10H1829.40V659.77H1817.73ZM1829.40 662.10H1841.07V660.73H1829.40ZM1841.07 662.10H1852.73V660.73H1841.07ZM1852.73 662.10H1864.40V660.73H1852.73ZM1864.40 662.10H1876.07V660.73H1864.40ZM1876.07 662.10H1887.73V660.73H1876.07ZM1887.73 662.10H1899.40V660.73H1887.73Z" fill="#ef9a9a" fill-opacity="0.7" stroke="#ffffff" stroke-width="1.4" clip-path="url(#c7)"/>
<polyline points="1549.4,549.5 1551.2,539.0 1552.9,529.0 1554.7,519.7 1556.4,511.3 1558.2,503.8 1560.0,497.4 1561.7,492.1 1563.5,488.0 1565.2,485.0 1567.0,483.1 1568.7,482.3 1570.5,482.3 1572.3,483.1 1574.0,484.6 1575.8,486.7 1577.5,489.3 1579.3,492.2 1581.1,495.5 1582.8,498.9 1584.6,502.6 1586.3,506.4 1588.1,510.2 1589.9,514.2 1591.6,518.2 1593.4,522.3 1595.1,526.3 1596.9,530.5 1598.6,534.6 1600.4,538.7 1602.2,542.9 1603.9,547.0 1605.7,551.0 1607.4,555.0 1609.2,558.9 1611.0,562.7 1612.7,566.4 1614.5,570.0 1616.2,573.4 1618.0,576.7 1619.8,579.8 1621.5,582.8 1623.3,585.7 1625.0,588.4 1626.8,590.9 1628.5,593.3 1630.3,595.6 1632.1,597.7 1633.8,599.8 1635.6,601.7 1637.3,603.5 1639.1,605.2 1640.9,606.7 1642.6,608.2 1644.4,609.6 1646.1,611.0 1647.9,612.2 1649.7,613.4 1651.4,614.5 1653.2,615.6 1654.9,616.7 1656.7,617.6 1658.4,618.6 1660.2,619.6 1662.0,620.5 1663.7,621.5 1665.5,622.4 1667.2,623.4 1669.0,624.4 1670.8,625.4 1672.5,626.5 1674.3,627.5 1676.0,628.6 1677.8,629.7 1679.6,630.9 1681.3,632.0 1683.1,633.1 1684.8,634.2 1686.6,635.3 1688.3,636.4 1690.1,637.4 1691.9,638.4 1693.6,639.3 1695.4,640.2 1697.1,641.0 1698.9,641.7 1700.7,642.4 1702.4,643.1 1704.2,643.7 1705.9,644.2 1707.7,644.8 1709.5,645.2 1711.2,645.7 1713.0,646.1 1714.7,646.6 1716.5,647.0 1718.2,647.4 1720.0,647.7 1721.8,648.1 1723.5,648.5 1725.3,648.8 1727.0,649.1 1728.8,649.5 1730.6,649.8 1732.3,650.1 1734.1,650.4 1735.8,650.7 1737.6,651.0 1739.3,651.3 1741.1,651.5 1742.9,651.8 1744.6,652.0 1746.4,652.2 1748.1,652.4 1749.9,652.6 1751.7,652.7 1753.4,652.9 1755.2,653.1 1756.9,653.2 1758.7,653.4 1760.5,653.5 1762.2,653.7 1764.0,653.9 1765.7,654.0 1767.5,654.2 1769.2,654.3 1771.0,654.5 1772.8,654.7 1774.5,654.9 1776.3,655.0 1778.0,655.2 1779.8,655.4 1781.6,655.6 1783.3,655.8 1785.1,655.9 1786.8,656.1 1788.6,656.3 1790.4,656.5 1792.1,656.7 1793.9,656.8 1795.6,657.0 1797.4,657.2 1799.1,657.4 1800.9,657.6 1802.7,657.7 1804.4,657.9 1806.2,658.1 1807.9,658.3 1809.7,658.4 1811.5,658.6 1813.2,658.8 1815.0,658.9 1816.7,659.1 1818.5,659.2 1820.3,659.4 1822.0,659.5 1823.8,659.7 1825.5,659.8 1827.3,659.9 1829.0,660.0 1830.8,660.1 1832.6,660.2 1834.3,660.3 1836.1,660.3 1837.8,660.4 1839.6,660.5 1841.4,660.5 1843.1,660.5 1844.9,660.6 1846.6,660.6 1848.4,660.6 1850.2,660.7 1851.9,660.7 1853.7,660.7 1855.4,660.7 1857.2,660.7 1858.9,660.7 1860.7,660.7 1862.5,660.7 1864.2,660.7 1866.0,660.7 1867.7,660.7 1869.5,660.8 1871.3,660.8 1873.0,660.8 1874.8,660.8 1876.5,660.8 1878.3,660.8 1880.1,660.8 1881.8,660.9 1883.6,660.9 1885.3,660.9 1887.1,661.0 1888.8,661.0 1890.6,661.1 1892.4,661.1 1894.1,661.2 1895.9,661.3 1897.6,661.3 1899.4,661.4" fill="none" stroke="#c85a5a" stroke-width="2.2" stroke-linejoin="round" stroke-linecap="round" clip-path="url(#c7)"/>
<rect x="1531.90" y="405.10" width="385.00" height="257.00" fill="none" stroke="#a8a8a8" stroke-width="2.0"/>
<g class="tk"><text x="1551.30" y="693.10" text-anchor="middle">0.0</text><text x="1670.90" y="693.10" text-anchor="middle">0.2</text><text x="1790.50" y="693.10" text-anchor="middle">0.4</text><text x="1910.10" y="693.10" text-anchor="middle">0.6</text><text x="1515.90" y="668.70" text-anchor="end">0</text><text x="1515.90" y="600.31" text-anchor="end">50</text><text x="1515.90" y="531.93" text-anchor="end">100</text><text x="1515.90" y="463.54" text-anchor="end">150</text></g>
<text class="lb" x="1724.40" y="715.60" text-anchor="middle">Value</text>
<text class="lb" transform="translate(1470.40 535.60) rotate(-90)" text-anchor="middle">Frequency</text>
<text class="tt" x="1724.40" y="394.30" text-anchor="middle">NO₃ (mg/L)</text>
<clipPath id="c8"><rect x="80.50" y="769.40" width="385.00" height="257.00"/></clipPath>
<path d="M97.30 769.40V1026.40M189.50 769.40V1026.40M281.70 769.40V1026.40M373.90 769.40V1026.40M80.50 1026.40H465.50M80.50 969.64H465.50M80.50 912.88H465.50M80.50 856.13H465.50M80.50 799.37H465.50" stroke="#bdbdbd" stroke-width="1.6" fill="none"/>
<path d="M98.00 1026.40H109.67V781.21H98.00ZM109.67 1026.40H121.33V823.66H109.67ZM121.33 1026.40H133.00V855.22H121.33ZM133.00 1026.40H144.67V920.04H133.00ZM144.67 1026.40H156.33V934.23H144.67ZM156.33 1026.40H168.00V944.33H156.33ZM168.00 1026.40H179.67V970.78H168.00ZM179.67 1026.40H191.33V992.00H179.67ZM191.33 1026.40H203.00V997.00H191.33ZM203.00 1026.40H214.67V1005.06H203.00ZM214.67 1026.40H226.33V1004.15H214.67ZM226.33 1026.40H238.00V1005.06H226.33ZM238.00 1026.40H249.67V1013.23H238.00ZM249.67 1026.40H261.33V1019.25H249.67ZM261.33 1026.40H273.00V1022.31H261.33ZM273.00 1026.40H284.67V1022.31H273.00ZM284.67 1026.40H296.33V1022.31H284.67ZM296.33 1026.40H308.00V1022.99H296.33ZM308.00 1026.40H319.67V1024.13H308.00ZM319.67 1026.40H331.33V1024.13H319.67ZM331.33 1026.40H343.00V1025.26H331.33ZM343.00 1026.40H354.67V1025.26H343.00ZM354.67 1026.40H366.33V1025.26H354.67ZM366.33 1026.40H378.00V1025.26H366.33ZM378.00 1026.40H389.67V1025.26H378.00ZM389.67 1026.40H401.33V1025.26H389.67ZM401.33 1026.40H413.00V1025.26H401.33ZM413.00 1026.40H424.67V1025.26H413.00ZM424.67 1026.40H436.33V1025.26H424.67ZM436.33 1026.40H448.00V1025.26H436.33Z" fill="#7458ab" fill-opacity="0.7" stroke="#ffffff" stroke-width="1.4" clip-path="url(#c8)"/>
<polyline points="98.0,910.4 99.8,896.5 101.5,883.5 103.3,871.6 105.0,861.3 106.8,852.7 108.6,845.9 110.3,841.1 112.1,838.1 113.8,836.9 115.6,837.2 117.3,838.9 119.1,841.8 120.9,845.6 122.6,850.2 124.4,855.4 126.1,861.0 127.9,867.0 129.7,873.1 131.4,879.3 133.2,885.4 134.9,891.4 136.7,897.2 138.5,902.7 140.2,907.9 142.0,912.7 143.7,917.1 145.5,921.1 147.2,924.8 149.0,928.2 150.8,931.4 152.5,934.3 154.3,937.1 156.0,939.8 157.8,942.5 159.6,945.2 161.3,948.0 163.1,950.8 164.8,953.6 166.6,956.6 168.4,959.5 170.1,962.6 171.9,965.6 173.6,968.6 175.4,971.5 177.1,974.4 178.9,977.2 180.7,979.8 182.4,982.3 184.2,984.6 185.9,986.7 187.7,988.7 189.5,990.5 191.2,992.1 193.0,993.6 194.7,994.9 196.5,996.2 198.3,997.3 200.0,998.3 201.8,999.3 203.5,1000.1 205.3,1000.9 207.0,1001.5 208.8,1002.1 210.6,1002.7 212.3,1003.1 214.1,1003.5 215.8,1003.9 217.6,1004.2 219.4,1004.5 221.1,1004.8 222.9,1005.1 224.6,1005.5 226.4,1005.9 228.2,1006.3 229.9,1006.8 231.7,1007.4 233.4,1008.0 235.2,1008.7 236.9,1009.5 238.7,1010.2 240.5,1011.1 242.2,1011.9 244.0,1012.8 245.7,1013.6 247.5,1014.5 249.3,1015.3 251.0,1016.1 252.8,1016.9 254.5,1017.6 256.3,1018.2 258.1,1018.8 259.8,1019.4 261.6,1019.9 263.3,1020.3 265.1,1020.7 266.8,1021.0 268.6,1021.3 270.4,1021.5 272.1,1021.7 273.9,1021.9 275.6,1022.0 277.4,1022.1 279.2,1022.2 280.9,1022.3 282.7,1022.3 284.4,1022.4 286.2,1022.4 287.9,1022.5 289.7,1022.5 291.5,1022.6 293.2,1022.7 295.0,1022.7 296.7,1022.8 298.5,1022.9 300.3,1023.0 302.0,1023.1 303.8,1023.2 305.5,1023.3 307.3,1023.4 309.1,1023.5 310.8,1023.6 312.6,1023.7 314.3,1023.8 316.1,1023.9 317.8,1024.0 319.6,1024.1 321.4,1024.2 323.1,1024.3 324.9,1024.4 326.6,1024.5 328.4,1024.5 330.2,1024.6 331.9,1024.7 333.7,1024.8 335.4,1024.9 337.2,1024.9 339.0,1025.0 340.7,1025.0 342.5,1025.1 344.2,1025.1 346.0,1025.2 347.7,1025.2 349.5,1025.2 351.3,1025.2 353.0,1025.2 354.8,1025.2 356.5,1025.3 358.3,1025.3 360.1,1025.3 361.8,1025.3 363.6,1025.3 365.3,1025.3 367.1,1025.3 368.9,1025.3 370.6,1025.3 372.4,1025.3 374.1,1025.3 375.9,1025.3 377.6,1025.3 379.4,1025.3 381.2,1025.3 382.9,1025.3 384.7,1025.3 386.4,1025.3 388.2,1025.3 390.0,1025.3 391.7,1025.3 393.5,1025.3 395.2,1025.3 397.0,1025.3 398.8,1025.3 400.5,1025.3 402.3,1025.3 404.0,1025.3 405.8,1025.3 407.5,1025.3 409.3,1025.3 411.1,1025.3 412.8,1025.3 414.6,1025.3 416.3,1025.3 418.1,1025.3 419.9,1025.3 421.6,1025.3 423.4,1025.3 425.1,1025.3 426.9,1025.3 428.7,1025.3 430.4,1025.3 432.2,1025.3 433.9,1025.4 435.7,1025.4 437.4,1025.5 439.2,1025.5 441.0,1025.6 442.7,1025.6 444.5,1025.7 446.2,1025.8 448.0,1025.8" fill="none" stroke="#3a1f6e" stroke-width="2.8" stroke-linejoin="round" stroke-linecap="round" clip-path="url(#c8)"/>
<rect x="80.50" y="769.40" width="385.00" height="257.00" fill="none" stroke="#a8a8a8" stroke-width="2.0"/>
<g class="tk"><text x="97.30" y="1057.40" text-anchor="middle">0</text><text x="189.50" y="1057.40" text-anchor="middle">1</text><text x="281.70" y="1057.40" text-anchor="middle">2</text><text x="373.90" y="1057.40" text-anchor="middle">3</text><text x="64.50" y="1033.00" text-anchor="end">0</text><text x="64.50" y="976.24" text-anchor="end">50</text><text x="64.50" y="919.48" text-anchor="end">100</text><text x="64.50" y="862.73" text-anchor="end">150</text><text x="64.50" y="805.97" text-anchor="end">200</text></g>
<text class="lb" x="273.00" y="1079.90" text-anchor="middle">Value</text>
<text class="lb" transform="translate(19.00 899.90) rotate(-90)" text-anchor="middle">Frequency</text>
<text class="tt" x="273.00" y="758.60" text-anchor="middle">SiO₃ (mg/L)</text>
<clipPath id="c9"><rect x="564.30" y="769.40" width="385.00" height="257.00"/></clipPath>
<path d="M585.30 769.40V1026.40M706.90 769.40V1026.40M828.50 769.40V1026.40M564.30 1026.40H949.30M564.30 977.75H949.30M564.30 929.10H949.30M564.30 880.45H949.30M564.30 831.80H949.30M564.30 783.14H949.30" stroke="#bdbdbd" stroke-width="1.6" fill="none"/>
<path d="M581.80 1026.40H593.47V1023.97H581.80ZM593.47 1026.40H605.13V1023.97H593.47ZM605.13 1026.40H616.80V1023.97H605.13ZM616.80 1026.40H628.47V1022.75H616.80ZM628.47 1026.40H640.13V1021.05H628.47ZM640.13 1026.40H651.80V1015.21H640.13ZM651.80 1026.40H663.47V1011.32H651.80ZM663.47 1026.40H675.13V995.99H663.47ZM675.13 1026.40H686.80V993.07H675.13ZM686.80 1026.40H698.47V960.72H686.80ZM698.47 1026.40H710.13V938.83H698.47ZM710.13 1026.40H721.80V885.31H710.13ZM721.80 1026.40H733.47V880.45H721.80ZM733.47 1026.40H745.13V839.09H733.47ZM745.13 1026.40H756.80V798.96H745.13ZM756.80 1026.40H768.47V803.58H756.80ZM768.47 1026.40H780.13V783.14H768.47ZM780.13 1026.40H791.80V815.98H780.13ZM791.80 1026.40H803.47V829.36H791.80ZM803.47 1026.40H815.13V860.99H803.47ZM815.13 1026.40H826.80V899.91H815.13ZM826.80 1026.40H838.47V949.77H826.80ZM838.47 1026.40H850.13V950.50H838.47ZM850.13 1026.40H861.80V985.05H850.13ZM861.80 1026.40H873.47V997.21H861.80ZM873.47 1026.40H885.13V997.21H873.47ZM885.13 1026.40H896.80V1011.32H885.13ZM896.80 1026.40H908.47V1018.37H896.80ZM908.47 1026.40H920.13V1021.05H908.47ZM920.13 1026.40H931.80V1022.75H920.13Z" fill="#c4b3db" fill-opacity="0.7" stroke="#ffffff" stroke-width="1.4" clip-path="url(#c9)"/>
<polyline points="581.8,1025.2 583.6,1025.0 585.3,1024.9 587.1,1024.8 588.8,1024.6 590.6,1024.5 592.4,1024.4 594.1,1024.3 595.9,1024.2 597.6,1024.1 599.4,1024.0 601.1,1024.0 602.9,1023.9 604.7,1023.8 606.4,1023.7 608.2,1023.6 609.9,1023.5 611.7,1023.4 613.5,1023.2 615.2,1023.1 617.0,1022.9 618.7,1022.7 620.5,1022.4 622.3,1022.2 624.0,1021.9 625.8,1021.6 627.5,1021.2 629.3,1020.8 631.0,1020.3 632.8,1019.9 634.6,1019.3 636.3,1018.8 638.1,1018.1 639.8,1017.5 641.6,1016.8 643.4,1016.0 645.1,1015.2 646.9,1014.3 648.6,1013.4 650.4,1012.4 652.2,1011.4 653.9,1010.2 655.7,1009.1 657.4,1007.8 659.2,1006.5 660.9,1005.1 662.7,1003.7 664.5,1002.2 666.2,1000.6 668.0,998.9 669.7,997.2 671.5,995.3 673.3,993.3 675.0,991.2 676.8,989.0 678.5,986.5 680.3,983.9 682.1,981.2 683.8,978.2 685.6,975.0 687.3,971.6 689.1,968.1 690.8,964.3 692.6,960.4 694.4,956.3 696.1,952.0 697.9,947.6 699.6,943.1 701.4,938.4 703.2,933.7 704.9,928.9 706.7,924.1 708.4,919.3 710.2,914.5 712.0,909.7 713.7,905.0 715.5,900.4 717.2,895.9 719.0,891.5 720.7,887.1 722.5,882.8 724.3,878.5 726.0,874.1 727.8,869.8 729.5,865.4 731.3,861.0 733.1,856.5 734.8,852.0 736.6,847.4 738.3,842.9 740.1,838.5 741.9,834.2 743.6,830.0 745.4,826.0 747.1,822.2 748.9,818.7 750.6,815.5 752.4,812.6 754.2,810.0 755.9,807.7 757.7,805.7 759.4,804.0 761.2,802.5 763.0,801.4 764.7,800.6 766.5,800.0 768.2,799.7 770.0,799.8 771.7,800.1 773.5,800.8 775.3,801.8 777.0,803.1 778.8,804.7 780.5,806.6 782.3,808.8 784.1,811.2 785.8,813.8 787.6,816.7 789.3,819.7 791.1,822.9 792.9,826.2 794.6,829.7 796.4,833.4 798.1,837.3 799.9,841.3 801.6,845.5 803.4,849.8 805.2,854.4 806.9,859.1 808.7,864.0 810.4,869.1 812.2,874.3 814.0,879.6 815.7,885.0 817.5,890.4 819.2,895.9 821.0,901.3 822.8,906.7 824.5,911.9 826.3,917.0 828.0,921.9 829.8,926.6 831.5,931.1 833.3,935.4 835.1,939.5 836.8,943.3 838.6,947.0 840.3,950.5 842.1,953.9 843.9,957.2 845.6,960.4 847.4,963.5 849.1,966.6 850.9,969.6 852.7,972.5 854.4,975.3 856.2,977.9 857.9,980.5 859.7,982.9 861.4,985.2 863.2,987.3 865.0,989.2 866.7,991.0 868.5,992.7 870.2,994.2 872.0,995.6 873.8,997.0 875.5,998.3 877.3,999.6 879.0,1000.8 880.8,1002.1 882.6,1003.3 884.3,1004.5 886.1,1005.8 887.8,1007.0 889.6,1008.2 891.3,1009.5 893.1,1010.6 894.9,1011.8 896.6,1012.8 898.4,1013.9 900.1,1014.8 901.9,1015.7 903.7,1016.6 905.4,1017.3 907.2,1018.0 908.9,1018.7 910.7,1019.3 912.5,1019.8 914.2,1020.3 916.0,1020.8 917.7,1021.3 919.5,1021.7 921.2,1022.1 923.0,1022.5 924.8,1022.9 926.5,1023.2 928.3,1023.6 930.0,1023.9 931.8,1024.2" fill="none" stroke="#6f5f9a" stroke-width="2.2" stroke-linejoin="round" stroke-linecap="round" clip-path="url(#c9)"/>
<rect x="564.30" y="769.40" width="385.00" height="257.00" fill="none" stroke="#a8a8a8" stroke-width="2.0"/>
<g class="tk"><text x="585.30" y="1057.40" text-anchor="middle">0</text><text x="706.90" y="1057.40" text-anchor="middle">2</text><text x="828.50" y="1057.40" text-anchor="middle">4</text><text x="548.30" y="1033.00" text-anchor="end">0</text><text x="548.30" y="984.35" text-anchor="end">20</text><text x="548.30" y="935.70" text-anchor="end">40</text><text x="548.30" y="887.05" text-anchor="end">60</text><text x="548.30" y="838.40" text-anchor="end">80</text><text x="548.30" y="789.74" text-anchor="end">100</text></g>
<text class="lb" x="756.80" y="1079.90" text-anchor="middle">Value</text>
<text class="lb" transform="translate(502.80 899.90) rotate(-90)" text-anchor="middle">Frequency</text>
<text class="tt" x="756.80" y="758.60" text-anchor="middle">BOD (mg/L)</text>
<clipPath id="c10"><rect x="1048.10" y="769.40" width="385.00" height="257.00"/></clipPath>
<path d="M1064.85 769.40V1026.40M1184.90 769.40V1026.40M1304.95 769.40V1026.40M1425.00 769.40V1026.40M1048.10 1026.40H1433.10M1048.10 970.65H1433.10M1048.10 914.90H1433.10M1048.10 859.15H1433.10M1048.10 803.41H1433.10" stroke="#bdbdbd" stroke-width="1.6" fill="none"/>
<path d="M1065.60 1026.40H1077.27V781.22H1065.60ZM1077.27 1026.40H1088.93V846.00H1077.27ZM1088.93 1026.40H1100.60V874.43H1088.93ZM1100.60 1026.40H1112.27V918.03H1100.60ZM1112.27 1026.40H1123.93V946.46H1112.27ZM1123.93 1026.40H1135.60V965.63H1123.93ZM1135.60 1026.40H1147.27V966.64H1135.60ZM1147.27 1026.40H1158.93V984.92H1147.27ZM1158.93 1026.40H1170.60V988.94H1158.93ZM1170.60 1026.40H1182.27V1001.09H1170.60ZM1182.27 1026.40H1193.93V1001.09H1182.27ZM1193.93 1026.40H1205.60V1009.23H1193.93ZM1205.60 1026.40H1217.27V1014.25H1205.60ZM1217.27 1026.40H1228.93V1019.26H1217.27ZM1228.93 1026.40H1240.60V1018.26H1228.93ZM1240.60 1026.40H1252.27V1016.37H1240.60ZM1252.27 1026.40H1263.93V1018.26H1252.27ZM1263.93 1026.40H1275.60V1018.26H1263.93ZM1275.60 1026.40H1287.27V1019.26H1275.60ZM1287.27 1026.40H1298.93V1020.27H1287.27ZM1298.93 1026.40H1310.60V1021.27H1298.93ZM1310.60 1026.40H1322.27V1022.39H1310.60ZM1322.27 1026.40H1333.93V1023.06H1322.27ZM1333.93 1026.40H1345.60V1023.72H1333.93ZM1345.60 1026.40H1357.27V1024.17H1345.60ZM1357.27 1026.40H1368.93V1024.73H1357.27ZM1368.93 1026.40H1380.60V1024.17H1368.93ZM1380.60 1026.40H1392.27V1023.06H1380.60ZM1392.27 1026.40H1403.93V1024.73H1392.27ZM1403.93 1026.40H1415.60V1025.29H1403.93Z" fill="#441f16" fill-opacity="0.7" stroke="#ffffff" stroke-width="1.4" clip-path="url(#c10)"/>
<polyline points="1065.6,915.7 1067.4,904.5 1069.1,894.0 1070.9,884.5 1072.6,876.2 1074.4,869.3 1076.2,863.9 1077.9,860.0 1079.7,857.5 1081.4,856.5 1083.2,856.7 1084.9,858.0 1086.7,860.3 1088.5,863.4 1090.2,867.1 1092.0,871.3 1093.7,875.9 1095.5,880.8 1097.3,885.8 1099.0,890.9 1100.8,896.0 1102.5,901.1 1104.3,906.1 1106.1,911.0 1107.8,915.8 1109.6,920.5 1111.3,925.0 1113.1,929.2 1114.8,933.3 1116.6,937.1 1118.4,940.7 1120.1,944.1 1121.9,947.2 1123.6,950.2 1125.4,952.9 1127.2,955.4 1128.9,957.7 1130.7,959.9 1132.4,961.9 1134.2,963.8 1136.0,965.6 1137.7,967.3 1139.5,969.0 1141.2,970.6 1143.0,972.2 1144.7,973.8 1146.5,975.4 1148.3,976.9 1150.0,978.4 1151.8,980.0 1153.5,981.5 1155.3,982.9 1157.1,984.4 1158.8,985.7 1160.6,987.1 1162.3,988.4 1164.1,989.7 1165.9,990.9 1167.6,992.1 1169.4,993.3 1171.1,994.4 1172.9,995.4 1174.6,996.5 1176.4,997.4 1178.2,998.4 1179.9,999.3 1181.7,1000.1 1183.4,1001.0 1185.2,1001.8 1187.0,1002.6 1188.7,1003.4 1190.5,1004.2 1192.2,1005.0 1194.0,1005.8 1195.8,1006.6 1197.5,1007.5 1199.3,1008.3 1201.0,1009.1 1202.8,1009.9 1204.5,1010.7 1206.3,1011.5 1208.1,1012.2 1209.8,1012.9 1211.6,1013.6 1213.3,1014.2 1215.1,1014.8 1216.9,1015.3 1218.6,1015.8 1220.4,1016.2 1222.1,1016.6 1223.9,1016.9 1225.7,1017.2 1227.4,1017.4 1229.2,1017.5 1230.9,1017.6 1232.7,1017.7 1234.4,1017.7 1236.2,1017.7 1238.0,1017.7 1239.7,1017.7 1241.5,1017.6 1243.2,1017.6 1245.0,1017.6 1246.8,1017.6 1248.5,1017.6 1250.3,1017.6 1252.0,1017.7 1253.8,1017.7 1255.5,1017.8 1257.3,1017.9 1259.1,1017.9 1260.8,1018.0 1262.6,1018.1 1264.3,1018.2 1266.1,1018.3 1267.9,1018.4 1269.6,1018.5 1271.4,1018.6 1273.1,1018.7 1274.9,1018.9 1276.7,1019.0 1278.4,1019.1 1280.2,1019.2 1281.9,1019.4 1283.7,1019.5 1285.4,1019.6 1287.2,1019.8 1289.0,1019.9 1290.7,1020.1 1292.5,1020.2 1294.2,1020.4 1296.0,1020.5 1297.8,1020.7 1299.5,1020.8 1301.3,1021.0 1303.0,1021.1 1304.8,1021.3 1306.6,1021.4 1308.3,1021.6 1310.1,1021.7 1311.8,1021.9 1313.6,1022.0 1315.3,1022.1 1317.1,1022.3 1318.9,1022.4 1320.6,1022.5 1322.4,1022.6 1324.1,1022.8 1325.9,1022.9 1327.7,1023.0 1329.4,1023.1 1331.2,1023.2 1332.9,1023.3 1334.7,1023.4 1336.5,1023.5 1338.2,1023.6 1340.0,1023.6 1341.7,1023.7 1343.5,1023.8 1345.2,1023.9 1347.0,1023.9 1348.8,1024.0 1350.5,1024.1 1352.3,1024.1 1354.0,1024.2 1355.8,1024.2 1357.6,1024.2 1359.3,1024.3 1361.1,1024.3 1362.8,1024.3 1364.6,1024.3 1366.4,1024.2 1368.1,1024.2 1369.9,1024.2 1371.6,1024.1 1373.4,1024.1 1375.1,1024.1 1376.9,1024.0 1378.7,1024.0 1380.4,1024.0 1382.2,1024.0 1383.9,1024.0 1385.7,1024.0 1387.5,1024.0 1389.2,1024.1 1391.0,1024.2 1392.7,1024.2 1394.5,1024.3 1396.3,1024.4 1398.0,1024.5 1399.8,1024.7 1401.5,1024.8 1403.3,1024.9 1405.0,1025.0 1406.8,1025.1 1408.6,1025.3 1410.3,1025.4 1412.1,1025.5 1413.8,1025.6 1415.6,1025.7" fill="none" stroke="#3a1c10" stroke-width="2.8" stroke-linejoin="round" stroke-linecap="round" clip-path="url(#c10)"/>
<rect x="1048.10" y="769.40" width="385.00" height="257.00" fill="none" stroke="#a8a8a8" stroke-width="2.0"/>
<g class="tk"><text x="1064.85" y="1057.40" text-anchor="middle">0</text><text x="1184.90" y="1057.40" text-anchor="middle">5</text><text x="1304.95" y="1057.40" text-anchor="middle">10</text><text x="1425.00" y="1057.40" text-anchor="middle">15</text><text x="1032.10" y="1033.00" text-anchor="end">0</text><text x="1032.10" y="977.25" text-anchor="end">50</text><text x="1032.10" y="921.50" text-anchor="end">100</text><text x="1032.10" y="865.75" text-anchor="end">150</text><text x="1032.10" y="810.01" text-anchor="end">200</text></g>
<text class="lb" x="1240.60" y="1079.90" text-anchor="middle">Value</text>
<text class="lb" transform="translate(986.60 899.90) rotate(-90)" text-anchor="middle">Frequency</text>
<text class="tt" x="1240.60" y="758.60" text-anchor="middle">Transparency (m)</text>
<clipPath id="c11"><rect x="1531.90" y="769.40" width="385.00" height="257.00"/></clipPath>
<path d="M1545.20 769.40V1026.40M1647.57 769.40V1026.40M1749.93 769.40V1026.40M1852.30 769.40V1026.40M1531.90 1026.40H1916.90M1531.90 974.40H1916.90M1531.90 922.40H1916.90M1531.90 870.41H1916.90M1531.90 818.41H1916.90" stroke="#bdbdbd" stroke-width="1.6" fill="none"/>
<path d="M1549.40 1026.40H1561.07V1023.80H1549.40ZM1572.73 1026.40H1584.40V1023.80H1572.73ZM1584.40 1026.40H1596.07V1023.80H1584.40ZM1596.07 1026.40H1607.73V1020.16H1596.07ZM1607.73 1026.40H1619.40V1016.52H1607.73ZM1619.40 1026.40H1631.07V1020.16H1619.40ZM1631.07 1026.40H1642.73V1021.98H1631.07ZM1642.73 1026.40H1654.40V990.00H1642.73ZM1654.40 1026.40H1666.07V979.60H1654.40ZM1666.07 1026.40H1677.73V952.30H1666.07ZM1677.73 1026.40H1689.40V924.22H1677.73ZM1689.40 1026.40H1701.07V860.27H1689.40ZM1701.07 1026.40H1712.73V878.47H1701.07ZM1712.73 1026.40H1724.40V820.75H1712.73ZM1724.40 1026.40H1736.07V816.59H1724.40ZM1736.07 1026.40H1747.73V788.25H1736.07ZM1747.73 1026.40H1759.40V792.41H1747.73ZM1759.40 1026.40H1771.07V782.27H1759.40ZM1771.07 1026.40H1782.73V828.81H1771.07ZM1782.73 1026.40H1794.40V869.37H1782.73ZM1794.40 1026.40H1806.07V879.51H1794.40ZM1806.07 1026.40H1817.73V893.81H1806.07ZM1817.73 1026.40H1829.40V958.54H1817.73ZM1829.40 1026.40H1841.07V982.72H1829.40ZM1841.07 1026.40H1852.73V982.72H1841.07ZM1852.73 1026.40H1864.40V1007.16H1852.73ZM1864.40 1026.40H1876.07V1013.14H1864.40ZM1876.07 1026.40H1887.73V1018.34H1876.07ZM1887.73 1026.40H1899.40V1021.20H1887.73Z" fill="#bc9791" fill-opacity="0.7" stroke="#ffffff" stroke-width="1.4" clip-path="url(#c11)"/>
<polyline points="1549.4,1025.5 1551.2,1025.4 1552.9,1025.3 1554.7,1025.3 1556.4,1025.2 1558.2,1025.2 1560.0,1025.1 1561.7,1025.1 1563.5,1025.0 1565.2,1025.0 1567.0,1024.9 1568.7,1024.8 1570.5,1024.8 1572.3,1024.7 1574.0,1024.5 1575.8,1024.4 1577.5,1024.2 1579.3,1024.1 1581.1,1023.9 1582.8,1023.7 1584.6,1023.4 1586.3,1023.2 1588.1,1022.9 1589.9,1022.6 1591.6,1022.3 1593.4,1022.0 1595.1,1021.7 1596.9,1021.4 1598.6,1021.1 1600.4,1020.7 1602.2,1020.4 1603.9,1020.1 1605.7,1019.8 1607.4,1019.6 1609.2,1019.4 1611.0,1019.2 1612.7,1019.0 1614.5,1018.9 1616.2,1018.7 1618.0,1018.6 1619.8,1018.4 1621.5,1018.2 1623.3,1017.9 1625.0,1017.4 1626.8,1016.9 1628.5,1016.1 1630.3,1015.2 1632.1,1014.1 1633.8,1012.8 1635.6,1011.3 1637.3,1009.6 1639.1,1007.6 1640.9,1005.5 1642.6,1003.2 1644.4,1000.7 1646.1,998.1 1647.9,995.4 1649.7,992.6 1651.4,989.7 1653.2,986.7 1654.9,983.7 1656.7,980.6 1658.4,977.4 1660.2,974.1 1662.0,970.6 1663.7,967.1 1665.5,963.4 1667.2,959.5 1669.0,955.5 1670.8,951.2 1672.5,946.8 1674.3,942.3 1676.0,937.5 1677.8,932.6 1679.6,927.6 1681.3,922.5 1683.1,917.4 1684.8,912.3 1686.6,907.2 1688.3,902.2 1690.1,897.3 1691.9,892.6 1693.6,888.1 1695.4,883.8 1697.1,879.7 1698.9,875.8 1700.7,872.0 1702.4,868.3 1704.2,864.6 1705.9,861.0 1707.7,857.4 1709.5,853.7 1711.2,850.1 1713.0,846.4 1714.7,842.7 1716.5,839.0 1718.2,835.4 1720.0,831.8 1721.8,828.4 1723.5,825.0 1725.3,821.8 1727.0,818.7 1728.8,815.7 1730.6,812.9 1732.3,810.3 1734.1,807.8 1735.8,805.5 1737.6,803.4 1739.3,801.4 1741.1,799.7 1742.9,798.1 1744.6,796.8 1746.4,795.7 1748.1,794.9 1749.9,794.3 1751.7,794.0 1753.4,794.0 1755.2,794.3 1756.9,794.9 1758.7,796.0 1760.5,797.4 1762.2,799.2 1764.0,801.4 1765.7,804.1 1767.5,807.1 1769.2,810.5 1771.0,814.3 1772.8,818.3 1774.5,822.6 1776.3,827.0 1778.0,831.5 1779.8,836.1 1781.6,840.7 1783.3,845.2 1785.1,849.6 1786.8,853.9 1788.6,858.0 1790.4,862.0 1792.1,865.8 1793.9,869.5 1795.6,873.1 1797.4,876.7 1799.1,880.2 1800.9,883.9 1802.7,887.6 1804.4,891.5 1806.2,895.6 1807.9,899.9 1809.7,904.5 1811.5,909.2 1813.2,914.2 1815.0,919.3 1816.7,924.5 1818.5,929.8 1820.3,935.1 1822.0,940.3 1823.8,945.3 1825.5,950.2 1827.3,954.8 1829.0,959.1 1830.8,963.1 1832.6,966.9 1834.3,970.3 1836.1,973.4 1837.8,976.3 1839.6,979.0 1841.4,981.5 1843.1,983.9 1844.9,986.1 1846.6,988.2 1848.4,990.3 1850.2,992.4 1851.9,994.4 1853.7,996.3 1855.4,998.2 1857.2,1000.1 1858.9,1001.9 1860.7,1003.6 1862.5,1005.2 1864.2,1006.8 1866.0,1008.2 1867.7,1009.6 1869.5,1010.8 1871.3,1012.0 1873.0,1013.0 1874.8,1014.0 1876.5,1014.9 1878.3,1015.8 1880.1,1016.6 1881.8,1017.3 1883.6,1018.0 1885.3,1018.7 1887.1,1019.3 1888.8,1019.9 1890.6,1020.5 1892.4,1021.1 1894.1,1021.7 1895.9,1022.2 1897.6,1022.7 1899.4,1023.2" fill="none" stroke="#7d5a52" stroke-width="2.2" stroke-linejoin="round" stroke-linecap="round" clip-path="url(#c11)"/>
<rect x="1531.90" y="769.40" width="385.00" height="257.00" fill="none" stroke="#a8a8a8" stroke-width="2.0"/>
<g class="tk"><text x="1545.20" y="1057.40" text-anchor="middle">8</text><text x="1647.57" y="1057.40" text-anchor="middle">9</text><text x="1749.93" y="1057.40" text-anchor="middle">10</text><text x="1852.30" y="1057.40" text-anchor="middle">11</text><text x="1515.90" y="1033.00" text-anchor="end">0</text><text x="1515.90" y="981.00" text-anchor="end">20</text><text x="1515.90" y="929.00" text-anchor="end">40</text><text x="1515.90" y="877.01" text-anchor="end">60</text><text x="1515.90" y="825.01" text-anchor="end">80</text></g>
<text class="lb" x="1724.40" y="1079.90" text-anchor="middle">Value</text>
<text class="lb" transform="translate(1470.40 899.90) rotate(-90)" text-anchor="middle">Frequency</text>
<text class="tt" x="1724.40" y="758.60" text-anchor="middle">log₁₀ (Plankton Density)</text>
<clipPath id="c12"><rect x="80.50" y="1133.70" width="385.00" height="257.00"/></clipPath>
<path d="M142.90 1133.70V1390.70M207.75 1133.70V1390.70M272.60 1133.70V1390.70M337.45 1133.70V1390.70M402.30 1133.70V1390.70M80.50 1390.70H465.50M80.50 1340.36H465.50M80.50 1290.01H465.50M80.50 1239.67H465.50M80.50 1189.33H465.50M80.50 1138.99H465.50" stroke="#bdbdbd" stroke-width="1.6" fill="none"/>
<path d="M98.00 1390.70H109.67V1383.90H98.00ZM109.67 1390.70H121.33V1382.14H109.67ZM121.33 1390.70H133.00V1382.14H121.33ZM133.00 1390.70H144.67V1380.38H133.00ZM144.67 1390.70H156.33V1377.86H144.67ZM156.33 1390.70H168.00V1371.57H156.33ZM168.00 1390.70H179.67V1367.04H168.00ZM179.67 1390.70H191.33V1338.60H179.67ZM191.33 1390.70H203.00V1333.31H191.33ZM203.00 1390.70H214.67V1277.93H203.00ZM214.67 1390.70H226.33V1258.30H214.67ZM226.33 1390.70H238.00V1203.17H226.33ZM238.00 1390.70H249.67V1165.67H238.00ZM249.67 1390.70H261.33V1178.25H249.67ZM261.33 1390.70H273.00V1146.29H261.33ZM273.00 1390.70H284.67V1190.84H273.00ZM284.67 1390.70H296.33V1180.02H284.67ZM296.33 1390.70H308.00V1189.08H296.33ZM308.00 1390.70H319.67V1269.88H308.00ZM319.67 1390.70H331.33V1245.96H319.67ZM331.33 1390.70H343.00V1279.95H331.33ZM343.00 1390.70H354.67V1308.39H343.00ZM354.67 1390.70H366.33V1336.83H354.67ZM366.33 1390.70H378.00V1354.70H366.33ZM378.00 1390.70H389.67V1377.86H378.00ZM389.67 1390.70H401.33V1378.11H389.67ZM401.33 1390.70H413.00V1383.90H401.33ZM413.00 1390.70H424.67V1385.92H413.00ZM424.67 1390.70H436.33V1386.92H424.67ZM436.33 1390.70H448.00V1386.92H436.33Z" fill="#db86d0" fill-opacity="0.7" stroke="#ffffff" stroke-width="1.4" clip-path="url(#c12)"/>
<polyline points="98.0,1387.0 99.8,1386.5 101.5,1386.1 103.3,1385.6 105.0,1385.2 106.8,1384.8 108.6,1384.4 110.3,1384.0 112.1,1383.7 113.8,1383.4 115.6,1383.1 117.3,1382.8 119.1,1382.6 120.9,1382.3 122.6,1382.1 124.4,1381.9 126.1,1381.6 127.9,1381.4 129.7,1381.2 131.4,1380.9 133.2,1380.6 134.9,1380.3 136.7,1380.0 138.5,1379.6 140.2,1379.3 142.0,1378.8 143.7,1378.4 145.5,1377.8 147.2,1377.3 149.0,1376.7 150.8,1376.0 152.5,1375.3 154.3,1374.5 156.0,1373.6 157.8,1372.7 159.6,1371.6 161.3,1370.5 163.1,1369.2 164.8,1367.9 166.6,1366.4 168.4,1364.8 170.1,1363.0 171.9,1361.1 173.6,1359.1 175.4,1356.9 177.1,1354.6 178.9,1352.1 180.7,1349.5 182.4,1346.8 184.2,1343.9 185.9,1340.9 187.7,1337.7 189.5,1334.3 191.2,1330.7 193.0,1327.0 194.7,1323.1 196.5,1319.0 198.3,1314.6 200.0,1310.1 201.8,1305.5 203.5,1300.6 205.3,1295.6 207.0,1290.5 208.8,1285.3 210.6,1280.0 212.3,1274.6 214.1,1269.1 215.8,1263.5 217.6,1257.9 219.4,1252.2 221.1,1246.5 222.9,1240.8 224.6,1235.2 226.4,1229.5 228.2,1224.0 229.9,1218.6 231.7,1213.3 233.4,1208.3 235.2,1203.5 236.9,1199.0 238.7,1194.8 240.5,1190.9 242.2,1187.4 244.0,1184.2 245.7,1181.4 247.5,1178.9 249.3,1176.7 251.0,1174.8 252.8,1173.2 254.5,1171.9 256.3,1170.8 258.1,1170.0 259.8,1169.4 261.6,1169.0 263.3,1168.9 265.1,1169.1 266.8,1169.5 268.6,1170.1 270.4,1171.0 272.1,1172.0 273.9,1173.2 275.6,1174.5 277.4,1175.9 279.2,1177.4 280.9,1179.0 282.7,1180.7 284.4,1182.5 286.2,1184.3 287.9,1186.3 289.7,1188.5 291.5,1190.9 293.2,1193.5 295.0,1196.4 296.7,1199.6 298.5,1203.1 300.3,1206.8 302.0,1210.7 303.8,1214.8 305.5,1219.0 307.3,1223.3 309.1,1227.6 310.8,1231.7 312.6,1235.8 314.3,1239.7 316.1,1243.4 317.8,1246.9 319.6,1250.2 321.4,1253.4 323.1,1256.4 324.9,1259.4 326.6,1262.4 328.4,1265.4 330.2,1268.5 331.9,1271.7 333.7,1275.0 335.4,1278.4 337.2,1281.9 339.0,1285.6 340.7,1289.4 342.5,1293.2 344.2,1297.1 346.0,1301.1 347.7,1305.0 349.5,1309.0 351.3,1312.9 353.0,1316.8 354.8,1320.7 356.5,1324.5 358.3,1328.1 360.1,1331.7 361.8,1335.3 363.6,1338.7 365.3,1342.0 367.1,1345.2 368.9,1348.3 370.6,1351.3 372.4,1354.1 374.1,1356.8 375.9,1359.4 377.6,1361.8 379.4,1364.1 381.2,1366.2 382.9,1368.2 384.7,1370.0 386.4,1371.7 388.2,1373.1 390.0,1374.5 391.7,1375.7 393.5,1376.8 395.2,1377.8 397.0,1378.7 398.8,1379.5 400.5,1380.2 402.3,1380.9 404.0,1381.5 405.8,1382.1 407.5,1382.6 409.3,1383.1 411.1,1383.5 412.8,1383.9 414.6,1384.3 416.3,1384.7 418.1,1385.0 419.9,1385.3 421.6,1385.6 423.4,1385.8 425.1,1386.1 426.9,1386.3 428.7,1386.5 430.4,1386.7 432.2,1386.9 433.9,1387.1 435.7,1387.3 437.4,1387.5 439.2,1387.7 441.0,1387.9 442.7,1388.1 444.5,1388.3 446.2,1388.5 448.0,1388.8" fill="none" stroke="#9a2e80" stroke-width="2.4" stroke-linejoin="round" stroke-linecap="round" clip-path="url(#c12)"/>
<rect x="80.50" y="1133.70" width="385.00" height="257.00" fill="none" stroke="#a8a8a8" stroke-width="2.0"/>
<g class="tk"><text x="142.90" y="1421.70" text-anchor="middle">9.0</text><text x="207.75" y="1421.70" text-anchor="middle">9.5</text><text x="272.60" y="1421.70" text-anchor="middle">10.0</text><text x="337.45" y="1421.70" text-anchor="middle">10.5</text><text x="402.30" y="1421.70" text-anchor="middle">11.0</text><text x="64.50" y="1397.30" text-anchor="end">0</text><text x="64.50" y="1346.96" text-anchor="end">20</text><text x="64.50" y="1296.61" text-anchor="end">40</text><text x="64.50" y="1246.27" text-anchor="end">60</text><text x="64.50" y="1195.93" text-anchor="end">80</text><text x="64.50" y="1145.59" text-anchor="end">100</text></g>
<text class="lb" x="273.00" y="1444.20" text-anchor="middle">Value</text>
<text class="lb" transform="translate(19.00 1264.20) rotate(-90)" text-anchor="middle">Frequency</text>
<text class="tt" x="273.00" y="1122.90" text-anchor="middle">log₁₀ (Zooplankton Abundance)</text>
<clipPath id="c13"><rect x="564.30" y="1133.70" width="385.00" height="257.00"/></clipPath>
<path d="M564.60 1133.70V1390.70M657.40 1133.70V1390.70M750.20 1133.70V1390.70M843.00 1133.70V1390.70M935.80 1133.70V1390.70M564.30 1390.70H949.30M564.30 1337.10H949.30M564.30 1283.51H949.30M564.30 1229.91H949.30M564.30 1176.31H949.30" stroke="#bdbdbd" stroke-width="1.6" fill="none"/>
<path d="M581.80 1390.70H593.47V1388.02H581.80ZM593.47 1390.70H605.13V1384.80H593.47ZM605.13 1390.70H616.80V1381.32H605.13ZM616.80 1390.70H628.47V1365.24H616.80ZM628.47 1390.70H640.13V1374.08H628.47ZM640.13 1390.70H651.80V1359.88H640.13ZM651.80 1390.70H663.47V1349.43H651.80ZM663.47 1390.70H675.13V1286.99H663.47ZM675.13 1390.70H686.80V1306.55H675.13ZM686.80 1390.70H698.47V1272.79H686.80ZM698.47 1390.70H710.13V1239.02H698.47ZM710.13 1390.70H721.80V1206.86H710.13ZM721.80 1390.70H733.47V1155.14H721.80ZM733.47 1390.70H745.13V1157.01H733.47ZM745.13 1390.70H756.80V1147.90H745.13ZM756.80 1390.70H768.47V1169.34H756.80ZM768.47 1390.70H780.13V1178.19H768.47ZM780.13 1390.70H791.80V1192.66H780.13ZM791.80 1390.70H803.47V1224.55H791.80ZM803.47 1390.70H815.13V1292.35H803.47ZM815.13 1390.70H826.80V1301.19H815.13ZM826.80 1390.70H838.47V1318.88H826.80ZM838.47 1390.70H850.13V1342.19H838.47ZM850.13 1390.70H861.80V1363.63H850.13ZM861.80 1390.70H873.47V1370.60H861.80ZM873.47 1390.70H885.13V1374.08H873.47ZM885.13 1390.70H896.80V1377.84H885.13ZM896.80 1390.70H908.47V1384.80H896.80ZM908.47 1390.70H920.13V1386.68H908.47ZM920.13 1390.70H931.80V1386.68H920.13Z" fill="#e8b0cd" fill-opacity="0.7" stroke="#ffffff" stroke-width="1.4" clip-path="url(#c13)"/>
<polyline points="581.8,1388.7 583.6,1388.3 585.3,1388.0 587.1,1387.6 588.8,1387.1 590.6,1386.7 592.4,1386.1 594.1,1385.6 595.9,1385.0 597.6,1384.4 599.4,1383.7 601.1,1383.0 602.9,1382.2 604.7,1381.4 606.4,1380.5 608.2,1379.6 609.9,1378.7 611.7,1377.8 613.5,1376.8 615.2,1375.9 617.0,1375.0 618.7,1374.1 620.5,1373.2 622.3,1372.4 624.0,1371.6 625.8,1370.8 627.5,1370.1 629.3,1369.3 631.0,1368.4 632.8,1367.5 634.6,1366.5 636.3,1365.3 638.1,1364.0 639.8,1362.5 641.6,1360.8 643.4,1359.0 645.1,1356.8 646.9,1354.5 648.6,1351.8 650.4,1349.0 652.2,1345.9 653.9,1342.6 655.7,1339.1 657.4,1335.5 659.2,1331.8 660.9,1328.1 662.7,1324.3 664.5,1320.7 666.2,1317.1 668.0,1313.6 669.7,1310.3 671.5,1307.1 673.3,1304.1 675.0,1301.2 676.8,1298.3 678.5,1295.5 680.3,1292.7 682.1,1289.8 683.8,1286.7 685.6,1283.5 687.3,1280.2 689.1,1276.6 690.8,1272.8 692.6,1268.8 694.4,1264.6 696.1,1260.3 697.9,1255.7 699.6,1251.0 701.4,1246.2 703.2,1241.2 704.9,1236.2 706.7,1231.1 708.4,1225.9 710.2,1220.7 712.0,1215.4 713.7,1210.3 715.5,1205.1 717.2,1200.1 719.0,1195.2 720.7,1190.5 722.5,1186.1 724.3,1181.9 726.0,1178.0 727.8,1174.4 729.5,1171.2 731.3,1168.3 733.1,1165.8 734.8,1163.6 736.6,1161.9 738.3,1160.4 740.1,1159.3 741.9,1158.5 743.6,1158.0 745.4,1157.8 747.1,1157.9 748.9,1158.2 750.6,1158.8 752.4,1159.6 754.2,1160.5 755.9,1161.7 757.7,1163.0 759.4,1164.5 761.2,1166.1 763.0,1167.9 764.7,1169.7 766.5,1171.7 768.2,1173.7 770.0,1175.8 771.7,1178.1 773.5,1180.5 775.3,1183.0 777.0,1185.7 778.8,1188.5 780.5,1191.6 782.3,1195.0 784.1,1198.6 785.8,1202.5 787.6,1206.7 789.3,1211.2 791.1,1215.9 792.9,1220.9 794.6,1226.2 796.4,1231.7 798.1,1237.3 799.9,1243.0 801.6,1248.7 803.4,1254.4 805.2,1260.0 806.9,1265.4 808.7,1270.7 810.4,1275.7 812.2,1280.5 814.0,1284.9 815.7,1289.2 817.5,1293.1 819.2,1296.9 821.0,1300.4 822.8,1303.8 824.5,1307.0 826.3,1310.2 828.0,1313.2 829.8,1316.2 831.5,1319.2 833.3,1322.2 835.1,1325.2 836.8,1328.2 838.6,1331.2 840.3,1334.1 842.1,1337.1 843.9,1339.9 845.6,1342.8 847.4,1345.5 849.1,1348.2 850.9,1350.7 852.7,1353.1 854.4,1355.4 856.2,1357.5 857.9,1359.5 859.7,1361.4 861.4,1363.0 863.2,1364.6 865.0,1366.0 866.7,1367.3 868.5,1368.5 870.2,1369.5 872.0,1370.5 873.8,1371.4 875.5,1372.3 877.3,1373.1 879.0,1373.9 880.8,1374.6 882.6,1375.3 884.3,1376.0 886.1,1376.7 887.8,1377.4 889.6,1378.1 891.3,1378.8 893.1,1379.5 894.9,1380.2 896.6,1380.8 898.4,1381.4 900.1,1382.1 901.9,1382.6 903.7,1383.2 905.4,1383.7 907.2,1384.2 908.9,1384.6 910.7,1385.1 912.5,1385.4 914.2,1385.8 916.0,1386.1 917.7,1386.4 919.5,1386.7 921.2,1387.0 923.0,1387.3 924.8,1387.6 926.5,1387.8 928.3,1388.1 930.0,1388.4 931.8,1388.6" fill="none" stroke="#d07a9e" stroke-width="2.0" stroke-linejoin="round" stroke-linecap="round" clip-path="url(#c13)"/>
<rect x="564.30" y="1133.70" width="385.00" height="257.00" fill="none" stroke="#a8a8a8" stroke-width="2.0"/>
<g class="tk"><text x="564.60" y="1421.70" text-anchor="middle">9.0</text><text x="657.40" y="1421.70" text-anchor="middle">9.5</text><text x="750.20" y="1421.70" text-anchor="middle">10.0</text><text x="843.00" y="1421.70" text-anchor="middle">10.5</text><text x="935.80" y="1421.70" text-anchor="middle">11.0</text><text x="548.30" y="1397.30" text-anchor="end">0</text><text x="548.30" y="1343.70" text-anchor="end">20</text><text x="548.30" y="1290.11" text-anchor="end">40</text><text x="548.30" y="1236.51" text-anchor="end">60</text><text x="548.30" y="1182.91" text-anchor="end">80</text></g>
<text class="lb" x="756.80" y="1444.20" text-anchor="middle">Value</text>
<text class="lb" transform="translate(502.80 1264.20) rotate(-90)" text-anchor="middle">Frequency</text>
<text class="tt" x="756.80" y="1122.90" text-anchor="middle">log₁₀ (Crab Larva Abundance)</text>
</svg>
</div>
</body></html>
